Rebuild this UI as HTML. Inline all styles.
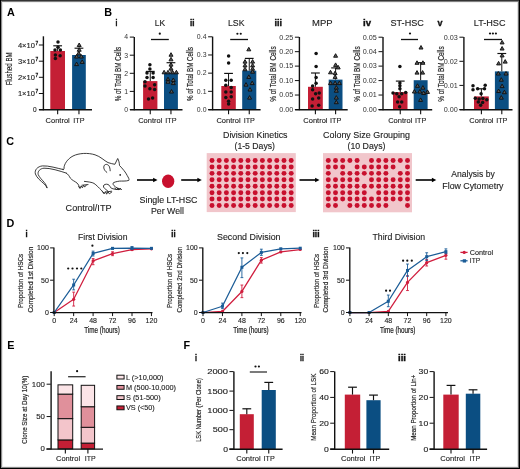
<!DOCTYPE html>
<html><head><meta charset="utf-8"><style>
html,body{margin:0;padding:0;background:#fff;}
svg{display:block;will-change:transform;font-family:"Liberation Sans", sans-serif;}
</style></head><body>
<svg width="520" height="469" viewBox="0 0 520 469">
<rect x="0" y="0" width="520" height="469" fill="#fff"/>
<rect x="0" y="2" width="520" height="1" fill="#efefef"/>
<rect x="0" y="466" width="520" height="1" fill="#eeeeee"/>
<rect x="2" y="0" width="1" height="469" fill="#e8e8e8"/>
<rect x="517" y="0" width="1" height="469" fill="#e0e0e0"/>
<rect x="0" y="1" width="520" height="1" fill="#808080"/>
<rect x="0" y="467" width="520" height="1" fill="#888888"/>
<rect x="1" y="0" width="1" height="469" fill="#8c8c8c"/>
<rect x="518" y="0" width="1" height="469" fill="#6a6a6a"/>
<rect x="0" y="0" width="520" height="1" fill="#333"/>
<rect x="0" y="0" width="1" height="469" fill="#000"/>
<rect x="519" y="0" width="1" height="469" fill="#000"/>
<rect x="0" y="468" width="520" height="1" fill="#000"/>
<text x="7" y="15.6" font-size="10.8" font-weight="bold" fill="#000">A</text>
<text x="104.3" y="15.6" font-size="10.8" font-weight="bold" fill="#000">B</text>
<text x="6.3" y="144.6" font-size="10.8" font-weight="bold" fill="#000">C</text>
<text x="6.5" y="227.2" font-size="10.8" font-weight="bold" fill="#000">D</text>
<text x="7.3" y="349.3" font-size="10.8" font-weight="bold" fill="#000">E</text>
<text x="183.5" y="349.3" font-size="10.8" font-weight="bold" fill="#000">F</text>
<rect x="50.3" y="51" width="14.7" height="58.6" fill="#C41F35"/>
<rect x="72.1" y="55" width="13.7" height="54.6" fill="#0B4E82"/>
<line x1="57.65" y1="45.8" x2="57.65" y2="51" stroke="#111" stroke-width="1"/>
<line x1="53.25" y1="45.8" x2="62.05" y2="45.8" stroke="#111" stroke-width="1.15"/>
<line x1="78.95" y1="48.2" x2="78.95" y2="55" stroke="#111" stroke-width="1"/>
<line x1="74.55" y1="48.2" x2="83.35" y2="48.2" stroke="#111" stroke-width="1.15"/>
<circle cx="58" cy="41.9" r="1.75" fill="#111"/>
<circle cx="55" cy="50.1" r="1.75" fill="#111"/>
<circle cx="60.4" cy="50.1" r="1.75" fill="#111"/>
<circle cx="58" cy="47.3" r="1.75" fill="#111"/>
<circle cx="55.4" cy="54.9" r="1.75" fill="#111"/>
<circle cx="60.1" cy="55.7" r="1.75" fill="#111"/>
<circle cx="55.4" cy="58.6" r="1.75" fill="#111"/>
<polygon points="79.2,43 77.2,46.52 81.2,46.52" fill="#5a5a5a" stroke="#111" stroke-width="0.95" stroke-linejoin="miter"/>
<polygon points="79.2,47.7 77.2,51.22 81.2,51.22" fill="#5a5a5a" stroke="#111" stroke-width="0.95" stroke-linejoin="miter"/>
<polygon points="76.6,54.5 74.6,58.02 78.59,58.02" fill="#5a5a5a" stroke="#111" stroke-width="0.95" stroke-linejoin="miter"/>
<polygon points="81.3,54.5 79.3,58.02 83.3,58.02" fill="#5a5a5a" stroke="#111" stroke-width="0.95" stroke-linejoin="miter"/>
<polygon points="78.7,51.3 76.7,54.82 80.7,54.82" fill="#5a5a5a" stroke="#111" stroke-width="0.95" stroke-linejoin="miter"/>
<polygon points="76.6,62.1 74.6,65.61 78.59,65.61" fill="#5a5a5a" stroke="#111" stroke-width="0.95" stroke-linejoin="miter"/>
<polygon points="82.2,59.9 80.2,63.41 84.2,63.41" fill="#5a5a5a" stroke="#111" stroke-width="0.95" stroke-linejoin="miter"/>
<line x1="43.4" y1="36.3" x2="43.4" y2="110.3" stroke="#111" stroke-width="1.4"/>
<line x1="39.1" y1="109.8" x2="92" y2="109.8" stroke="#111" stroke-width="1.4"/>
<line x1="38.9" y1="45" x2="43.1" y2="45" stroke="#111" stroke-width="1"/>
<line x1="38.9" y1="61.2" x2="43.1" y2="61.2" stroke="#111" stroke-width="1"/>
<line x1="38.9" y1="77.3" x2="43.1" y2="77.3" stroke="#111" stroke-width="1"/>
<line x1="38.9" y1="93.5" x2="43.1" y2="93.5" stroke="#111" stroke-width="1"/>
<line x1="38.9" y1="109.6" x2="43.1" y2="109.6" stroke="#111" stroke-width="1"/>
<line x1="57.65" y1="109.6" x2="57.65" y2="114.3" stroke="#111" stroke-width="1.1"/>
<line x1="78.95" y1="109.6" x2="78.95" y2="114.3" stroke="#111" stroke-width="1.1"/>
<text x="57.65" y="122.6" font-size="7.8" text-anchor="middle" textLength="24.2" lengthAdjust="spacingAndGlyphs" fill="#222" stroke="#222" stroke-width="0.12">Control</text>
<text x="78.95" y="122.6" font-size="7.8" text-anchor="middle" textLength="11.2" lengthAdjust="spacingAndGlyphs" fill="#222" stroke="#222" stroke-width="0.12">ITP</text>
<text x="17.9" y="47.55" font-size="6.5" textLength="17" lengthAdjust="spacingAndGlyphs" fill="#222" stroke="#222" stroke-width="0.12">4×10</text>
<text x="35.6" y="44.9" font-size="4.5" textLength="2.7" lengthAdjust="spacingAndGlyphs" fill="#222" stroke="#222" stroke-width="0.3">7</text>
<text x="17.9" y="63.75" font-size="6.5" textLength="17" lengthAdjust="spacingAndGlyphs" fill="#222" stroke="#222" stroke-width="0.12">3×10</text>
<text x="35.6" y="61.1" font-size="4.5" textLength="2.7" lengthAdjust="spacingAndGlyphs" fill="#222" stroke="#222" stroke-width="0.3">7</text>
<text x="17.9" y="79.85" font-size="6.5" textLength="17" lengthAdjust="spacingAndGlyphs" fill="#222" stroke="#222" stroke-width="0.12">2×10</text>
<text x="35.6" y="77.2" font-size="4.5" textLength="2.7" lengthAdjust="spacingAndGlyphs" fill="#222" stroke="#222" stroke-width="0.3">7</text>
<text x="17.9" y="96.05" font-size="6.5" textLength="17" lengthAdjust="spacingAndGlyphs" fill="#222" stroke="#222" stroke-width="0.12">1×10</text>
<text x="35.6" y="93.4" font-size="4.5" textLength="2.7" lengthAdjust="spacingAndGlyphs" fill="#222" stroke="#222" stroke-width="0.3">7</text>
<text x="36.5" y="111.9" font-size="6.5" text-anchor="end" fill="#222" stroke="#222" stroke-width="0.12">0</text>
<text transform="translate(12 68.8) rotate(-90)" x="0" y="0" font-size="9.43" text-anchor="middle" textLength="32.8" lengthAdjust="spacingAndGlyphs" fill="#222" stroke="#222" stroke-width="0.16">Flushed BM</text>
<rect x="143.1" y="81.1" width="14.3" height="28.4" fill="#C41F35"/>
<rect x="164" y="72.8" width="13.9" height="36.7" fill="#0B4E82"/>
<line x1="150.25" y1="71.4" x2="150.25" y2="81.1" stroke="#111" stroke-width="1"/>
<line x1="145.85" y1="71.4" x2="154.65" y2="71.4" stroke="#111" stroke-width="1.15"/>
<line x1="170.95" y1="62.7" x2="170.95" y2="72.8" stroke="#111" stroke-width="1"/>
<line x1="166.55" y1="62.7" x2="175.35" y2="62.7" stroke="#111" stroke-width="1.15"/>
<circle cx="149.9" cy="64.8" r="1.75" fill="#111"/>
<circle cx="149.9" cy="69.1" r="1.75" fill="#111"/>
<circle cx="147" cy="73" r="1.75" fill="#111"/>
<circle cx="153.1" cy="73" r="1.75" fill="#111"/>
<circle cx="147" cy="77.6" r="1.75" fill="#111"/>
<circle cx="153.1" cy="77.6" r="1.75" fill="#111"/>
<circle cx="145" cy="81.7" r="1.75" fill="#111"/>
<circle cx="145" cy="86" r="1.75" fill="#111"/>
<circle cx="154.6" cy="84.8" r="1.75" fill="#111"/>
<circle cx="149.9" cy="88.8" r="1.75" fill="#111"/>
<circle cx="154.6" cy="89.4" r="1.75" fill="#111"/>
<circle cx="148.5" cy="99" r="1.75" fill="#111"/>
<circle cx="152.6" cy="98" r="1.75" fill="#111"/>
<polygon points="171,52.7 169,56.22 173,56.22" fill="#5a5a5a" stroke="#111" stroke-width="0.95" stroke-linejoin="miter"/>
<polygon points="171,57.3 169,60.82 173,60.82" fill="#5a5a5a" stroke="#111" stroke-width="0.95" stroke-linejoin="miter"/>
<polygon points="171,62.6 169,66.11 173,66.11" fill="#5a5a5a" stroke="#111" stroke-width="0.95" stroke-linejoin="miter"/>
<polygon points="171,66.5 169,70.02 173,70.02" fill="#5a5a5a" stroke="#111" stroke-width="0.95" stroke-linejoin="miter"/>
<polygon points="164.1,70.3 162.1,73.81 166.09,73.81" fill="#5a5a5a" stroke="#111" stroke-width="0.95" stroke-linejoin="miter"/>
<polygon points="168,70.3 166,73.81 170,73.81" fill="#5a5a5a" stroke="#111" stroke-width="0.95" stroke-linejoin="miter"/>
<polygon points="172.6,70.3 170.6,73.81 174.59,73.81" fill="#5a5a5a" stroke="#111" stroke-width="0.95" stroke-linejoin="miter"/>
<polygon points="176.4,70.3 174.41,73.81 178.4,73.81" fill="#5a5a5a" stroke="#111" stroke-width="0.95" stroke-linejoin="miter"/>
<polygon points="168,77.2 166,80.71 170,80.71" fill="#5a5a5a" stroke="#111" stroke-width="0.95" stroke-linejoin="miter"/>
<polygon points="173.3,78 171.31,81.52 175.3,81.52" fill="#5a5a5a" stroke="#111" stroke-width="0.95" stroke-linejoin="miter"/>
<polygon points="168,79.7 166,83.21 170,83.21" fill="#5a5a5a" stroke="#111" stroke-width="0.95" stroke-linejoin="miter"/>
<polygon points="173.3,81.1 171.31,84.61 175.3,84.61" fill="#5a5a5a" stroke="#111" stroke-width="0.95" stroke-linejoin="miter"/>
<polygon points="171.5,89.5 169.5,93.02 173.5,93.02" fill="#5a5a5a" stroke="#111" stroke-width="0.95" stroke-linejoin="miter"/>
<line x1="134.3" y1="36.9" x2="134.3" y2="110.2" stroke="#111" stroke-width="1.4"/>
<line x1="130" y1="109.7" x2="182.5" y2="109.7" stroke="#111" stroke-width="1.4"/>
<line x1="129.8" y1="37.1" x2="134" y2="37.1" stroke="#111" stroke-width="1"/>
<text x="128.2" y="39.4" font-size="6.3" text-anchor="end" textLength="3.85" lengthAdjust="spacingAndGlyphs" fill="#333">4</text>
<line x1="129.8" y1="55.2" x2="134" y2="55.2" stroke="#111" stroke-width="1"/>
<text x="128.2" y="57.5" font-size="6.3" text-anchor="end" textLength="3.85" lengthAdjust="spacingAndGlyphs" fill="#333">3</text>
<line x1="129.8" y1="73.3" x2="134" y2="73.3" stroke="#111" stroke-width="1"/>
<text x="128.2" y="75.6" font-size="6.3" text-anchor="end" textLength="3.85" lengthAdjust="spacingAndGlyphs" fill="#333">2</text>
<line x1="129.8" y1="91.4" x2="134" y2="91.4" stroke="#111" stroke-width="1"/>
<text x="128.2" y="93.7" font-size="6.3" text-anchor="end" textLength="3.85" lengthAdjust="spacingAndGlyphs" fill="#333">1</text>
<line x1="129.8" y1="109.5" x2="134" y2="109.5" stroke="#111" stroke-width="1"/>
<text x="128.2" y="111.8" font-size="6.3" text-anchor="end" textLength="3.85" lengthAdjust="spacingAndGlyphs" fill="#333">0</text>
<line x1="150.25" y1="109.5" x2="150.25" y2="114.2" stroke="#111" stroke-width="1.1"/>
<line x1="170.95" y1="109.5" x2="170.95" y2="114.2" stroke="#111" stroke-width="1.1"/>
<text x="150.25" y="122.6" font-size="7.8" text-anchor="middle" textLength="24.2" lengthAdjust="spacingAndGlyphs" fill="#222" stroke="#222" stroke-width="0.12">Control</text>
<text x="170.95" y="122.6" font-size="7.8" text-anchor="middle" textLength="11.2" lengthAdjust="spacingAndGlyphs" fill="#222" stroke="#222" stroke-width="0.12">ITP</text>
<line x1="151" y1="39.5" x2="168.8" y2="39.5" stroke="#111" stroke-width="1.3"/>
<circle cx="159.8" cy="33.7" r="1.1" fill="#111"/>
<text transform="translate(120.5 74) rotate(-90)" x="0" y="0" font-size="8.39" text-anchor="middle" textLength="54.5" lengthAdjust="spacingAndGlyphs" fill="#222" stroke="#222" stroke-width="0.16">% of Total BM Cells</text>
<rect x="221.3" y="86" width="14.5" height="23.5" fill="#C41F35"/>
<rect x="242.2" y="70.7" width="14.1" height="38.8" fill="#0B4E82"/>
<line x1="228.55" y1="73.4" x2="228.55" y2="86" stroke="#111" stroke-width="1"/>
<line x1="224.15" y1="73.4" x2="232.95" y2="73.4" stroke="#111" stroke-width="1.15"/>
<line x1="249.25" y1="58.4" x2="249.25" y2="70.7" stroke="#111" stroke-width="1"/>
<line x1="244.85" y1="58.4" x2="253.65" y2="58.4" stroke="#111" stroke-width="1.15"/>
<circle cx="228.6" cy="56.1" r="1.75" fill="#111"/>
<circle cx="228.6" cy="63" r="1.75" fill="#111"/>
<circle cx="225.8" cy="80.2" r="1.75" fill="#111"/>
<circle cx="231.2" cy="80.2" r="1.75" fill="#111"/>
<circle cx="225.8" cy="85.2" r="1.75" fill="#111"/>
<circle cx="231.2" cy="87.5" r="1.75" fill="#111"/>
<circle cx="225.8" cy="92.1" r="1.75" fill="#111"/>
<circle cx="231.2" cy="92.1" r="1.75" fill="#111"/>
<circle cx="225.8" cy="97.5" r="1.75" fill="#111"/>
<circle cx="231.2" cy="96.7" r="1.75" fill="#111"/>
<circle cx="228.6" cy="101.3" r="1.75" fill="#111"/>
<circle cx="228.6" cy="104.1" r="1.75" fill="#111"/>
<polygon points="248.8,47.3 246.81,50.82 250.8,50.82" fill="#5a5a5a" stroke="#111" stroke-width="0.95" stroke-linejoin="miter"/>
<polygon points="245,59.6 243,63.12 247,63.12" fill="#5a5a5a" stroke="#111" stroke-width="0.95" stroke-linejoin="miter"/>
<polygon points="252.6,59.6 250.6,63.12 254.59,63.12" fill="#5a5a5a" stroke="#111" stroke-width="0.95" stroke-linejoin="miter"/>
<polygon points="245,63.4 243,66.91 247,66.91" fill="#5a5a5a" stroke="#111" stroke-width="0.95" stroke-linejoin="miter"/>
<polygon points="252.6,63.4 250.6,66.91 254.59,66.91" fill="#5a5a5a" stroke="#111" stroke-width="0.95" stroke-linejoin="miter"/>
<polygon points="245,67.2 243,70.71 247,70.71" fill="#5a5a5a" stroke="#111" stroke-width="0.95" stroke-linejoin="miter"/>
<polygon points="252.6,66.7 250.6,70.21 254.59,70.21" fill="#5a5a5a" stroke="#111" stroke-width="0.95" stroke-linejoin="miter"/>
<polygon points="252.6,69.7 250.6,73.21 254.59,73.21" fill="#5a5a5a" stroke="#111" stroke-width="0.95" stroke-linejoin="miter"/>
<polygon points="248.8,74.9 246.81,78.41 250.8,78.41" fill="#5a5a5a" stroke="#111" stroke-width="0.95" stroke-linejoin="miter"/>
<polygon points="246,82.6 244,86.11 248,86.11" fill="#5a5a5a" stroke="#111" stroke-width="0.95" stroke-linejoin="miter"/>
<polygon points="252.2,81.1 250.2,84.61 254.19,84.61" fill="#5a5a5a" stroke="#111" stroke-width="0.95" stroke-linejoin="miter"/>
<polygon points="250,87.5 248,91.02 252,91.02" fill="#5a5a5a" stroke="#111" stroke-width="0.95" stroke-linejoin="miter"/>
<polygon points="249.6,95.6 247.6,99.11 251.59,99.11" fill="#5a5a5a" stroke="#111" stroke-width="0.95" stroke-linejoin="miter"/>
<line x1="212.6" y1="36.6" x2="212.6" y2="110.2" stroke="#111" stroke-width="1.4"/>
<line x1="208.3" y1="109.7" x2="260.6" y2="109.7" stroke="#111" stroke-width="1.4"/>
<line x1="208.1" y1="36.8" x2="212.3" y2="36.8" stroke="#111" stroke-width="1"/>
<text x="206.5" y="39.1" font-size="6.3" text-anchor="end" textLength="9.63" lengthAdjust="spacingAndGlyphs" fill="#333">0.4</text>
<line x1="208.1" y1="54.97" x2="212.3" y2="54.97" stroke="#111" stroke-width="1"/>
<text x="206.5" y="57.27" font-size="6.3" text-anchor="end" textLength="9.63" lengthAdjust="spacingAndGlyphs" fill="#333">0.3</text>
<line x1="208.1" y1="73.15" x2="212.3" y2="73.15" stroke="#111" stroke-width="1"/>
<text x="206.5" y="75.45" font-size="6.3" text-anchor="end" textLength="9.63" lengthAdjust="spacingAndGlyphs" fill="#333">0.2</text>
<line x1="208.1" y1="91.33" x2="212.3" y2="91.33" stroke="#111" stroke-width="1"/>
<text x="206.5" y="93.62" font-size="6.3" text-anchor="end" textLength="9.63" lengthAdjust="spacingAndGlyphs" fill="#333">0.1</text>
<line x1="208.1" y1="109.5" x2="212.3" y2="109.5" stroke="#111" stroke-width="1"/>
<text x="206.5" y="111.8" font-size="6.3" text-anchor="end" textLength="9.63" lengthAdjust="spacingAndGlyphs" fill="#333">0.0</text>
<line x1="228.55" y1="109.5" x2="228.55" y2="114.2" stroke="#111" stroke-width="1.1"/>
<line x1="249.25" y1="109.5" x2="249.25" y2="114.2" stroke="#111" stroke-width="1.1"/>
<text x="228.55" y="122.6" font-size="7.8" text-anchor="middle" textLength="24.2" lengthAdjust="spacingAndGlyphs" fill="#222" stroke="#222" stroke-width="0.12">Control</text>
<text x="249.25" y="122.6" font-size="7.8" text-anchor="middle" textLength="11.2" lengthAdjust="spacingAndGlyphs" fill="#222" stroke="#222" stroke-width="0.12">ITP</text>
<line x1="230.2" y1="39.5" x2="248" y2="39.5" stroke="#111" stroke-width="1.3"/>
<circle cx="237.4" cy="33.75" r="1.1" fill="#111"/>
<circle cx="240.75" cy="33.75" r="1.1" fill="#111"/>
<text transform="translate(192.6 74) rotate(-90)" x="0" y="0" font-size="8.39" text-anchor="middle" textLength="54" lengthAdjust="spacingAndGlyphs" fill="#222" stroke="#222" stroke-width="0.16">% of Total BM Cells</text>
<rect x="308" y="86.8" width="14.8" height="22.7" fill="#C41F35"/>
<rect x="328.7" y="79.6" width="13.8" height="29.9" fill="#0B4E82"/>
<line x1="315.4" y1="73" x2="315.4" y2="86.8" stroke="#111" stroke-width="1"/>
<line x1="311" y1="73" x2="319.8" y2="73" stroke="#111" stroke-width="1.15"/>
<line x1="335.6" y1="67.9" x2="335.6" y2="79.6" stroke="#111" stroke-width="1"/>
<line x1="331.2" y1="67.9" x2="340" y2="67.9" stroke="#111" stroke-width="1.15"/>
<circle cx="316.1" cy="53.5" r="1.75" fill="#111"/>
<circle cx="316.1" cy="66.4" r="1.75" fill="#111"/>
<circle cx="316.1" cy="77.6" r="1.75" fill="#111"/>
<circle cx="316.1" cy="83.3" r="1.75" fill="#111"/>
<circle cx="312.6" cy="86" r="1.75" fill="#111"/>
<circle cx="312.6" cy="89.8" r="1.75" fill="#111"/>
<circle cx="315.6" cy="93.7" r="1.75" fill="#111"/>
<circle cx="319.2" cy="92.9" r="1.75" fill="#111"/>
<circle cx="312.6" cy="99" r="1.75" fill="#111"/>
<circle cx="318.7" cy="98" r="1.75" fill="#111"/>
<circle cx="312.1" cy="106" r="1.75" fill="#111"/>
<circle cx="318.7" cy="105.2" r="1.75" fill="#111"/>
<polygon points="335.6,53.7 333.61,57.22 337.6,57.22" fill="#5a5a5a" stroke="#111" stroke-width="0.95" stroke-linejoin="miter"/>
<polygon points="335.6,62.9 333.61,66.41 337.6,66.41" fill="#5a5a5a" stroke="#111" stroke-width="0.95" stroke-linejoin="miter"/>
<polygon points="338.2,65.4 336.2,68.91 340.19,68.91" fill="#5a5a5a" stroke="#111" stroke-width="0.95" stroke-linejoin="miter"/>
<polygon points="330.5,70.3 328.5,73.81 332.5,73.81" fill="#5a5a5a" stroke="#111" stroke-width="0.95" stroke-linejoin="miter"/>
<polygon points="335.1,71.1 333.11,74.61 337.1,74.61" fill="#5a5a5a" stroke="#111" stroke-width="0.95" stroke-linejoin="miter"/>
<polygon points="335.1,74.9 333.11,78.41 337.1,78.41" fill="#5a5a5a" stroke="#111" stroke-width="0.95" stroke-linejoin="miter"/>
<polygon points="330.5,81.1 328.5,84.61 332.5,84.61" fill="#5a5a5a" stroke="#111" stroke-width="0.95" stroke-linejoin="miter"/>
<polygon points="335.1,81.1 333.11,84.61 337.1,84.61" fill="#5a5a5a" stroke="#111" stroke-width="0.95" stroke-linejoin="miter"/>
<polygon points="339.4,81.1 337.4,84.61 341.39,84.61" fill="#5a5a5a" stroke="#111" stroke-width="0.95" stroke-linejoin="miter"/>
<polygon points="336.3,85.6 334.31,89.11 338.3,89.11" fill="#5a5a5a" stroke="#111" stroke-width="0.95" stroke-linejoin="miter"/>
<polygon points="336.3,88.7 334.31,92.21 338.3,92.21" fill="#5a5a5a" stroke="#111" stroke-width="0.95" stroke-linejoin="miter"/>
<polygon points="336.3,95.6 334.31,99.11 338.3,99.11" fill="#5a5a5a" stroke="#111" stroke-width="0.95" stroke-linejoin="miter"/>
<polygon points="336.3,100.2 334.31,103.71 338.3,103.71" fill="#5a5a5a" stroke="#111" stroke-width="0.95" stroke-linejoin="miter"/>
<line x1="299.4" y1="37" x2="299.4" y2="110.2" stroke="#111" stroke-width="1.4"/>
<line x1="295.1" y1="109.7" x2="347.7" y2="109.7" stroke="#111" stroke-width="1.4"/>
<line x1="294.9" y1="37.2" x2="299.1" y2="37.2" stroke="#111" stroke-width="1"/>
<text x="293.3" y="39.5" font-size="6.3" text-anchor="end" textLength="14.1" lengthAdjust="spacingAndGlyphs" fill="#333">0.25</text>
<line x1="294.9" y1="51.66" x2="299.1" y2="51.66" stroke="#111" stroke-width="1"/>
<text x="293.3" y="53.96" font-size="6.3" text-anchor="end" textLength="14.1" lengthAdjust="spacingAndGlyphs" fill="#333">0.20</text>
<line x1="294.9" y1="66.12" x2="299.1" y2="66.12" stroke="#111" stroke-width="1"/>
<text x="293.3" y="68.42" font-size="6.3" text-anchor="end" textLength="14.1" lengthAdjust="spacingAndGlyphs" fill="#333">0.15</text>
<line x1="294.9" y1="80.58" x2="299.1" y2="80.58" stroke="#111" stroke-width="1"/>
<text x="293.3" y="82.88" font-size="6.3" text-anchor="end" textLength="14.1" lengthAdjust="spacingAndGlyphs" fill="#333">0.10</text>
<line x1="294.9" y1="95.04" x2="299.1" y2="95.04" stroke="#111" stroke-width="1"/>
<text x="293.3" y="97.34" font-size="6.3" text-anchor="end" textLength="14.1" lengthAdjust="spacingAndGlyphs" fill="#333">0.05</text>
<line x1="294.9" y1="109.5" x2="299.1" y2="109.5" stroke="#111" stroke-width="1"/>
<text x="293.3" y="111.8" font-size="6.3" text-anchor="end" textLength="14.1" lengthAdjust="spacingAndGlyphs" fill="#333">0.00</text>
<line x1="315.4" y1="109.5" x2="315.4" y2="114.2" stroke="#111" stroke-width="1.1"/>
<line x1="335.6" y1="109.5" x2="335.6" y2="114.2" stroke="#111" stroke-width="1.1"/>
<text x="315.4" y="122.6" font-size="7.8" text-anchor="middle" textLength="24.2" lengthAdjust="spacingAndGlyphs" fill="#222" stroke="#222" stroke-width="0.12">Control</text>
<text x="335.6" y="122.6" font-size="7.8" text-anchor="middle" textLength="11.2" lengthAdjust="spacingAndGlyphs" fill="#222" stroke="#222" stroke-width="0.12">ITP</text>
<text transform="translate(275.8 74) rotate(-90)" x="0" y="0" font-size="8.39" text-anchor="middle" textLength="55.3" lengthAdjust="spacingAndGlyphs" fill="#222" stroke="#222" stroke-width="0.16">% of Total BM Cells</text>
<rect x="393" y="92.1" width="14.5" height="17.4" fill="#C41F35"/>
<rect x="413.7" y="80.2" width="13.9" height="29.3" fill="#0B4E82"/>
<line x1="400.25" y1="81.1" x2="400.25" y2="92.1" stroke="#111" stroke-width="1"/>
<line x1="395.85" y1="81.1" x2="404.65" y2="81.1" stroke="#111" stroke-width="1.15"/>
<line x1="420.65" y1="62.7" x2="420.65" y2="80.2" stroke="#111" stroke-width="1"/>
<line x1="416.25" y1="62.7" x2="425.05" y2="62.7" stroke="#111" stroke-width="1.15"/>
<circle cx="399.9" cy="66.4" r="1.75" fill="#111"/>
<circle cx="399.9" cy="83" r="1.75" fill="#111"/>
<circle cx="399.9" cy="85.7" r="1.75" fill="#111"/>
<circle cx="399.9" cy="88.8" r="1.75" fill="#111"/>
<circle cx="393" cy="92.9" r="1.75" fill="#111"/>
<circle cx="396.8" cy="93.7" r="1.75" fill="#111"/>
<circle cx="401.7" cy="93.7" r="1.75" fill="#111"/>
<circle cx="405.7" cy="92.5" r="1.75" fill="#111"/>
<circle cx="399.1" cy="96.7" r="1.75" fill="#111"/>
<circle cx="397.6" cy="102.1" r="1.75" fill="#111"/>
<circle cx="401.7" cy="102.1" r="1.75" fill="#111"/>
<circle cx="399.6" cy="106.7" r="1.75" fill="#111"/>
<polygon points="421,45.5 419,49.02 423,49.02" fill="#5a5a5a" stroke="#111" stroke-width="0.95" stroke-linejoin="miter"/>
<polygon points="417,60.8 415,64.31 419,64.31" fill="#5a5a5a" stroke="#111" stroke-width="0.95" stroke-linejoin="miter"/>
<polygon points="422.9,60.8 420.9,64.31 424.89,64.31" fill="#5a5a5a" stroke="#111" stroke-width="0.95" stroke-linejoin="miter"/>
<polygon points="417,70.6 415,74.11 419,74.11" fill="#5a5a5a" stroke="#111" stroke-width="0.95" stroke-linejoin="miter"/>
<polygon points="422.6,70.6 420.61,74.11 424.6,74.11" fill="#5a5a5a" stroke="#111" stroke-width="0.95" stroke-linejoin="miter"/>
<polygon points="417.5,83.8 415.5,87.31 419.5,87.31" fill="#5a5a5a" stroke="#111" stroke-width="0.95" stroke-linejoin="miter"/>
<polygon points="422.9,85.6 420.9,89.11 424.89,89.11" fill="#5a5a5a" stroke="#111" stroke-width="0.95" stroke-linejoin="miter"/>
<polygon points="414.4,89.5 412.4,93.02 416.39,93.02" fill="#5a5a5a" stroke="#111" stroke-width="0.95" stroke-linejoin="miter"/>
<polygon points="419.8,89.5 417.81,93.02 421.8,93.02" fill="#5a5a5a" stroke="#111" stroke-width="0.95" stroke-linejoin="miter"/>
<polygon points="423.6,91 421.61,94.52 425.6,94.52" fill="#5a5a5a" stroke="#111" stroke-width="0.95" stroke-linejoin="miter"/>
<polygon points="427.5,89.9 425.5,93.41 429.5,93.41" fill="#5a5a5a" stroke="#111" stroke-width="0.95" stroke-linejoin="miter"/>
<polygon points="420.6,97.9 418.61,101.41 422.6,101.41" fill="#5a5a5a" stroke="#111" stroke-width="0.95" stroke-linejoin="miter"/>
<line x1="383" y1="37" x2="383" y2="110.2" stroke="#111" stroke-width="1.4"/>
<line x1="378.7" y1="109.7" x2="432.2" y2="109.7" stroke="#111" stroke-width="1.4"/>
<line x1="378.5" y1="37.2" x2="382.7" y2="37.2" stroke="#111" stroke-width="1"/>
<text x="376.9" y="39.5" font-size="6.3" text-anchor="end" textLength="14.1" lengthAdjust="spacingAndGlyphs" fill="#333">0.05</text>
<line x1="378.5" y1="51.66" x2="382.7" y2="51.66" stroke="#111" stroke-width="1"/>
<text x="376.9" y="53.96" font-size="6.3" text-anchor="end" textLength="14.1" lengthAdjust="spacingAndGlyphs" fill="#333">0.04</text>
<line x1="378.5" y1="66.12" x2="382.7" y2="66.12" stroke="#111" stroke-width="1"/>
<text x="376.9" y="68.42" font-size="6.3" text-anchor="end" textLength="14.1" lengthAdjust="spacingAndGlyphs" fill="#333">0.03</text>
<line x1="378.5" y1="80.58" x2="382.7" y2="80.58" stroke="#111" stroke-width="1"/>
<text x="376.9" y="82.88" font-size="6.3" text-anchor="end" textLength="14.1" lengthAdjust="spacingAndGlyphs" fill="#333">0.02</text>
<line x1="378.5" y1="95.04" x2="382.7" y2="95.04" stroke="#111" stroke-width="1"/>
<text x="376.9" y="97.34" font-size="6.3" text-anchor="end" textLength="14.1" lengthAdjust="spacingAndGlyphs" fill="#333">0.01</text>
<line x1="378.5" y1="109.5" x2="382.7" y2="109.5" stroke="#111" stroke-width="1"/>
<text x="376.9" y="111.8" font-size="6.3" text-anchor="end" textLength="14.1" lengthAdjust="spacingAndGlyphs" fill="#333">0.00</text>
<line x1="400.25" y1="109.5" x2="400.25" y2="114.2" stroke="#111" stroke-width="1.1"/>
<line x1="420.65" y1="109.5" x2="420.65" y2="114.2" stroke="#111" stroke-width="1.1"/>
<text x="400.25" y="122.6" font-size="7.8" text-anchor="middle" textLength="24.2" lengthAdjust="spacingAndGlyphs" fill="#222" stroke="#222" stroke-width="0.12">Control</text>
<text x="420.65" y="122.6" font-size="7.8" text-anchor="middle" textLength="11.2" lengthAdjust="spacingAndGlyphs" fill="#222" stroke="#222" stroke-width="0.12">ITP</text>
<line x1="401" y1="39.5" x2="418" y2="39.5" stroke="#111" stroke-width="1.3"/>
<circle cx="410" cy="33.5" r="1.1" fill="#111"/>
<text transform="translate(359.6 74) rotate(-90)" x="0" y="0" font-size="8.39" text-anchor="middle" textLength="55.3" lengthAdjust="spacingAndGlyphs" fill="#222" stroke="#222" stroke-width="0.16">% of Total BM Cells</text>
<rect x="474" y="96.4" width="14.8" height="13.1" fill="#C41F35"/>
<rect x="494.9" y="71.4" width="13.8" height="38.1" fill="#0B4E82"/>
<line x1="481.4" y1="88.8" x2="481.4" y2="96.4" stroke="#111" stroke-width="1"/>
<line x1="477" y1="88.8" x2="485.8" y2="88.8" stroke="#111" stroke-width="1.15"/>
<line x1="501.8" y1="53.5" x2="501.8" y2="71.4" stroke="#111" stroke-width="1"/>
<line x1="497.4" y1="53.5" x2="506.2" y2="53.5" stroke="#111" stroke-width="1.15"/>
<circle cx="473" cy="85.7" r="1.75" fill="#111"/>
<circle cx="473" cy="89.8" r="1.75" fill="#111"/>
<circle cx="477.6" cy="88.8" r="1.75" fill="#111"/>
<circle cx="485.2" cy="85.2" r="1.75" fill="#111"/>
<circle cx="484.5" cy="88.8" r="1.75" fill="#111"/>
<circle cx="481.1" cy="93.7" r="1.75" fill="#111"/>
<circle cx="475.3" cy="98.3" r="1.75" fill="#111"/>
<circle cx="479.1" cy="99" r="1.75" fill="#111"/>
<circle cx="482.9" cy="98.6" r="1.75" fill="#111"/>
<circle cx="486.8" cy="99.8" r="1.75" fill="#111"/>
<circle cx="478.3" cy="102.1" r="1.75" fill="#111"/>
<circle cx="482.6" cy="102.6" r="1.75" fill="#111"/>
<circle cx="480.6" cy="105.2" r="1.75" fill="#111"/>
<polygon points="502.1,40.4 500.11,43.91 504.1,43.91" fill="#5a5a5a" stroke="#111" stroke-width="0.95" stroke-linejoin="miter"/>
<polygon points="502.1,46.5 500.11,50.02 504.1,50.02" fill="#5a5a5a" stroke="#111" stroke-width="0.95" stroke-linejoin="miter"/>
<polygon points="502.1,53.4 500.11,56.91 504.1,56.91" fill="#5a5a5a" stroke="#111" stroke-width="0.95" stroke-linejoin="miter"/>
<polygon points="498.6,61.4 496.61,64.91 500.6,64.91" fill="#5a5a5a" stroke="#111" stroke-width="0.95" stroke-linejoin="miter"/>
<polygon points="505.2,59.6 503.2,63.12 507.19,63.12" fill="#5a5a5a" stroke="#111" stroke-width="0.95" stroke-linejoin="miter"/>
<polygon points="498.3,71.5 496.31,75.02 500.3,75.02" fill="#5a5a5a" stroke="#111" stroke-width="0.95" stroke-linejoin="miter"/>
<polygon points="506,71.5 504,75.02 508,75.02" fill="#5a5a5a" stroke="#111" stroke-width="0.95" stroke-linejoin="miter"/>
<polygon points="501.3,77.7 499.31,81.21 503.3,81.21" fill="#5a5a5a" stroke="#111" stroke-width="0.95" stroke-linejoin="miter"/>
<polygon points="502.1,84.1 500.11,87.61 504.1,87.61" fill="#5a5a5a" stroke="#111" stroke-width="0.95" stroke-linejoin="miter"/>
<polygon points="498.6,89 496.61,92.52 500.6,92.52" fill="#5a5a5a" stroke="#111" stroke-width="0.95" stroke-linejoin="miter"/>
<polygon points="504.4,90.2 502.4,93.71 506.39,93.71" fill="#5a5a5a" stroke="#111" stroke-width="0.95" stroke-linejoin="miter"/>
<polygon points="501.3,95.6 499.31,99.11 503.3,99.11" fill="#5a5a5a" stroke="#111" stroke-width="0.95" stroke-linejoin="miter"/>
<line x1="463.9" y1="37" x2="463.9" y2="110.2" stroke="#111" stroke-width="1.4"/>
<line x1="459.6" y1="109.7" x2="512.5" y2="109.7" stroke="#111" stroke-width="1.4"/>
<line x1="459.4" y1="37.2" x2="463.6" y2="37.2" stroke="#111" stroke-width="1"/>
<text x="457.8" y="39.5" font-size="6.3" text-anchor="end" textLength="14.1" lengthAdjust="spacingAndGlyphs" fill="#333">0.03</text>
<line x1="459.4" y1="61.3" x2="463.6" y2="61.3" stroke="#111" stroke-width="1"/>
<text x="457.8" y="63.6" font-size="6.3" text-anchor="end" textLength="14.1" lengthAdjust="spacingAndGlyphs" fill="#333">0.02</text>
<line x1="459.4" y1="85.4" x2="463.6" y2="85.4" stroke="#111" stroke-width="1"/>
<text x="457.8" y="87.7" font-size="6.3" text-anchor="end" textLength="14.1" lengthAdjust="spacingAndGlyphs" fill="#333">0.01</text>
<line x1="459.4" y1="109.5" x2="463.6" y2="109.5" stroke="#111" stroke-width="1"/>
<text x="457.8" y="111.8" font-size="6.3" text-anchor="end" textLength="14.1" lengthAdjust="spacingAndGlyphs" fill="#333">0.00</text>
<line x1="481.4" y1="109.5" x2="481.4" y2="114.2" stroke="#111" stroke-width="1.1"/>
<line x1="501.8" y1="109.5" x2="501.8" y2="114.2" stroke="#111" stroke-width="1.1"/>
<text x="481.4" y="122.6" font-size="7.8" text-anchor="middle" textLength="24.2" lengthAdjust="spacingAndGlyphs" fill="#222" stroke="#222" stroke-width="0.12">Control</text>
<text x="501.8" y="122.6" font-size="7.8" text-anchor="middle" textLength="11.2" lengthAdjust="spacingAndGlyphs" fill="#222" stroke="#222" stroke-width="0.12">ITP</text>
<line x1="484" y1="39.5" x2="502" y2="39.5" stroke="#111" stroke-width="1.3"/>
<circle cx="490" cy="33.5" r="1.1" fill="#111"/>
<circle cx="492.9" cy="33.5" r="1.1" fill="#111"/>
<circle cx="495.9" cy="33.5" r="1.1" fill="#111"/>
<text transform="translate(443.8 74) rotate(-90)" x="0" y="0" font-size="8.39" text-anchor="middle" textLength="55.3" lengthAdjust="spacingAndGlyphs" fill="#222" stroke="#222" stroke-width="0.16">% of Total BM Cells</text>
<text x="154.8" y="26.4" font-size="8.6" textLength="10.4" lengthAdjust="spacingAndGlyphs" fill="#222" stroke="#222" stroke-width="0.12">LK</text>
<text x="228" y="26.4" font-size="8.6" textLength="16.5" lengthAdjust="spacingAndGlyphs" fill="#222" stroke="#222" stroke-width="0.12">LSK</text>
<text x="312" y="26.4" font-size="8.6" textLength="20.5" lengthAdjust="spacingAndGlyphs" fill="#222" stroke="#222" stroke-width="0.12">MPP</text>
<text x="390.5" y="26.4" font-size="8.6" textLength="33.3" lengthAdjust="spacingAndGlyphs" fill="#222" stroke="#222" stroke-width="0.12">ST-HSC</text>
<text x="473.8" y="26.4" font-size="8.6" textLength="31.7" lengthAdjust="spacingAndGlyphs" fill="#222" stroke="#222" stroke-width="0.12">LT-HSC</text>
<text x="115.6" y="26.4" font-size="8.6" font-weight="bold" textLength="1.9" lengthAdjust="spacingAndGlyphs" fill="#111" stroke="#111" stroke-width="0.35">i</text>
<text x="190" y="26.4" font-size="8.6" font-weight="bold" textLength="4.5" lengthAdjust="spacingAndGlyphs" fill="#111" stroke="#111" stroke-width="0.35">ii</text>
<text x="274.5" y="26.4" font-size="8.6" font-weight="bold" textLength="7.5" lengthAdjust="spacingAndGlyphs" fill="#111" stroke="#111" stroke-width="0.35">iii</text>
<text x="363" y="26.4" font-size="8.6" font-weight="bold" textLength="8" lengthAdjust="spacingAndGlyphs" fill="#111" stroke="#111" stroke-width="0.35">iv</text>
<text x="437.5" y="26.4" font-size="8.6" font-weight="bold" textLength="5" lengthAdjust="spacingAndGlyphs" fill="#111" stroke="#111" stroke-width="0.35">v</text>
<path d="M62.8,169.4 C63.6,169.8 64.2,169.2 64.0,168.2 C63.9,164.5 67.5,158.8 73,156 C79,153 88,152.6 95,154.8 C100.5,156.5 104,160.5 108,162.6 C110.5,163.6 113,163.8 114.9,164.3 L117.7,158.5 C118.8,160.5 119.4,163 119.5,165.5 C122.5,168.5 125.8,172.5 127.2,175.5 C128.3,177.5 129.6,179.3 128.8,180.4 C126,181.3 122,181 119.6,181.1 C116.5,181.5 113.5,182.3 113,183.2 C112.6,184.5 114.5,186.8 117.5,188 L120.5,189.2" fill="none" stroke="#1a1a1a" stroke-width="0.85" stroke-linecap="round" stroke-linejoin="round"/>
<path d="M118.5,189.6 C115.5,189.4 112,189 110.6,187.6 C109.6,185.6 108.9,184.3 106.6,184.2 C104.4,184.2 102.8,185.4 103.6,187.2 C104.5,188.8 106.8,190 108,191.2" fill="none" stroke="#1a1a1a" stroke-width="0.85" stroke-linecap="round" stroke-linejoin="round"/>
<path d="M84.4,181.4 C88,181.8 92,182.2 94,183.4 C96.5,185 99,188 101.2,190 C102.4,191.4 103.2,192.4 104.2,193.2" fill="none" stroke="#1a1a1a" stroke-width="0.85" stroke-linecap="round" stroke-linejoin="round"/>
<path d="M66.3,173.1 C68,174 69.4,176.4 70.4,178.2 C72,180.2 75,181.4 77,183 C78.2,184.2 79,185.6 79.8,187.9" fill="none" stroke="#1a1a1a" stroke-width="0.85" stroke-linecap="round" stroke-linejoin="round"/>
<path d="M63.4,169.6 C58,168.4 48,165.4 42.5,165.9 C37.5,166.4 34.3,170 35.4,174 C36.8,178 41,181 43.8,183.6 C45.4,185 46.4,186.5 47,187.7" fill="none" stroke="#1a1a1a" stroke-width="0.85" stroke-linecap="round" stroke-linejoin="round"/>
<path d="M66.3,173.1 C60,171 50,167.9 44,168.2 C40,168.5 37.4,171.4 38.2,174.5 C39.4,177.6 42.5,180.2 44.4,182.6 C45.8,184.3 46.6,186 47,187.7" fill="none" stroke="#1a1a1a" stroke-width="0.85" stroke-linecap="round" stroke-linejoin="round"/>
<path d="M106.8,172.4 C104,170.4 103,167.4 104.4,165.2 C105.9,163.7 108.5,164.4 109.5,166.9 C110,168.4 110.2,169.8 110.2,170.8" fill="none" stroke="#1a1a1a" stroke-width="0.85" stroke-linecap="round" stroke-linejoin="round"/>
<path d="M78.6,186.6 L80,188.4 L81.2,185.9 L82.3,187.8 L83.6,185.3 L84.6,187.1 L86.4,185 M82,185.2 L88,184.6" fill="none" stroke="#1a1a1a" stroke-width="0.85" stroke-linecap="round" stroke-linejoin="round"/>
<path d="M102.4,191.6 L104,193.8 L105.4,191.6 L106.6,194.2 L108,191.8 L109.3,193.8 L111.8,192 M106,192 L111.5,191.2" fill="none" stroke="#1a1a1a" stroke-width="0.85" stroke-linecap="round" stroke-linejoin="round"/>
<path d="M114.8,188 L116.4,189.8 L117.8,188 L119,190 L120.2,188.2 L121.6,189.6" fill="none" stroke="#1a1a1a" stroke-width="0.85" stroke-linecap="round" stroke-linejoin="round"/>
<circle cx="120.2" cy="174.9" r="0.85" fill="#1a1a1a"/>
<text x="65.6" y="211.2" font-size="9" textLength="45.9" lengthAdjust="spacingAndGlyphs" fill="#222" stroke="#222" stroke-width="0.12">Control/ITP</text>
<line x1="137" y1="180" x2="154" y2="180" stroke="#000" stroke-width="1.6"/>
<polygon points="157.5,180 153.1,177.85 153.1,182.15" fill="#000"/>
<ellipse cx="168.15" cy="181.3" rx="6.15" ry="6.7" fill="#C8102E"/>
<line x1="181.2" y1="180" x2="198.3" y2="180" stroke="#000" stroke-width="1.6"/>
<polygon points="201.8,180 197.4,177.85 197.4,182.15" fill="#000"/>
<text x="139.5" y="202.6" font-size="8.8" textLength="58" lengthAdjust="spacingAndGlyphs" fill="#222" stroke="#222" stroke-width="0.12">Single LT-HSC</text>
<text x="151" y="213.6" font-size="8.8" textLength="33" lengthAdjust="spacingAndGlyphs" fill="#222" stroke="#222" stroke-width="0.12">Per Well</text>
<rect x="206.7" y="153.1" width="89.1" height="59" fill="#F1C6CB"/>
<circle cx="212" cy="160.5" r="2.48" fill="#C8102E"/>
<circle cx="219.2" cy="160.5" r="2.48" fill="#C8102E"/>
<circle cx="226.4" cy="160.5" r="2.48" fill="#C8102E"/>
<circle cx="233.6" cy="160.5" r="2.48" fill="#C8102E"/>
<circle cx="240.8" cy="160.5" r="2.48" fill="#C8102E"/>
<circle cx="248" cy="160.5" r="2.48" fill="#C8102E"/>
<circle cx="255.2" cy="160.5" r="2.48" fill="#C8102E"/>
<circle cx="262.4" cy="160.5" r="2.48" fill="#C8102E"/>
<circle cx="269.6" cy="160.5" r="2.48" fill="#C8102E"/>
<circle cx="276.8" cy="160.5" r="2.48" fill="#C8102E"/>
<circle cx="284" cy="160.5" r="2.48" fill="#C8102E"/>
<circle cx="291.2" cy="160.5" r="2.48" fill="#C8102E"/>
<circle cx="212" cy="166.93" r="2.48" fill="#C8102E"/>
<circle cx="219.2" cy="166.93" r="2.48" fill="#C8102E"/>
<circle cx="226.4" cy="166.93" r="2.48" fill="#C8102E"/>
<circle cx="233.6" cy="166.93" r="2.48" fill="#C8102E"/>
<circle cx="240.8" cy="166.93" r="2.48" fill="#C8102E"/>
<circle cx="248" cy="166.93" r="2.48" fill="#C8102E"/>
<circle cx="255.2" cy="166.93" r="2.48" fill="#C8102E"/>
<circle cx="262.4" cy="166.93" r="2.48" fill="#C8102E"/>
<circle cx="269.6" cy="166.93" r="2.48" fill="#C8102E"/>
<circle cx="276.8" cy="166.93" r="2.48" fill="#C8102E"/>
<circle cx="284" cy="166.93" r="2.48" fill="#C8102E"/>
<circle cx="291.2" cy="166.93" r="2.48" fill="#C8102E"/>
<circle cx="212" cy="173.36" r="2.48" fill="#C8102E"/>
<circle cx="219.2" cy="173.36" r="2.48" fill="#C8102E"/>
<circle cx="226.4" cy="173.36" r="2.48" fill="#C8102E"/>
<circle cx="233.6" cy="173.36" r="2.48" fill="#C8102E"/>
<circle cx="240.8" cy="173.36" r="2.48" fill="#C8102E"/>
<circle cx="248" cy="173.36" r="2.48" fill="#C8102E"/>
<circle cx="255.2" cy="173.36" r="2.48" fill="#C8102E"/>
<circle cx="262.4" cy="173.36" r="2.48" fill="#C8102E"/>
<circle cx="269.6" cy="173.36" r="2.48" fill="#C8102E"/>
<circle cx="276.8" cy="173.36" r="2.48" fill="#C8102E"/>
<circle cx="284" cy="173.36" r="2.48" fill="#C8102E"/>
<circle cx="291.2" cy="173.36" r="2.48" fill="#C8102E"/>
<circle cx="212" cy="179.79" r="2.48" fill="#C8102E"/>
<circle cx="219.2" cy="179.79" r="2.48" fill="#C8102E"/>
<circle cx="226.4" cy="179.79" r="2.48" fill="#C8102E"/>
<circle cx="233.6" cy="179.79" r="2.48" fill="#C8102E"/>
<circle cx="240.8" cy="179.79" r="2.48" fill="#C8102E"/>
<circle cx="248" cy="179.79" r="2.48" fill="#C8102E"/>
<circle cx="255.2" cy="179.79" r="2.48" fill="#C8102E"/>
<circle cx="262.4" cy="179.79" r="2.48" fill="#C8102E"/>
<circle cx="269.6" cy="179.79" r="2.48" fill="#C8102E"/>
<circle cx="276.8" cy="179.79" r="2.48" fill="#C8102E"/>
<circle cx="284" cy="179.79" r="2.48" fill="#C8102E"/>
<circle cx="291.2" cy="179.79" r="2.48" fill="#C8102E"/>
<circle cx="212" cy="186.22" r="2.48" fill="#C8102E"/>
<circle cx="219.2" cy="186.22" r="2.48" fill="#C8102E"/>
<circle cx="226.4" cy="186.22" r="2.48" fill="#C8102E"/>
<circle cx="233.6" cy="186.22" r="2.48" fill="#C8102E"/>
<circle cx="240.8" cy="186.22" r="2.48" fill="#C8102E"/>
<circle cx="248" cy="186.22" r="2.48" fill="#C8102E"/>
<circle cx="255.2" cy="186.22" r="2.48" fill="#C8102E"/>
<circle cx="262.4" cy="186.22" r="2.48" fill="#C8102E"/>
<circle cx="269.6" cy="186.22" r="2.48" fill="#C8102E"/>
<circle cx="276.8" cy="186.22" r="2.48" fill="#C8102E"/>
<circle cx="284" cy="186.22" r="2.48" fill="#C8102E"/>
<circle cx="291.2" cy="186.22" r="2.48" fill="#C8102E"/>
<circle cx="212" cy="192.65" r="2.48" fill="#C8102E"/>
<circle cx="219.2" cy="192.65" r="2.48" fill="#C8102E"/>
<circle cx="226.4" cy="192.65" r="2.48" fill="#C8102E"/>
<circle cx="233.6" cy="192.65" r="2.48" fill="#C8102E"/>
<circle cx="240.8" cy="192.65" r="2.48" fill="#C8102E"/>
<circle cx="248" cy="192.65" r="2.48" fill="#C8102E"/>
<circle cx="255.2" cy="192.65" r="2.48" fill="#C8102E"/>
<circle cx="262.4" cy="192.65" r="2.48" fill="#C8102E"/>
<circle cx="269.6" cy="192.65" r="2.48" fill="#C8102E"/>
<circle cx="276.8" cy="192.65" r="2.48" fill="#C8102E"/>
<circle cx="284" cy="192.65" r="2.48" fill="#C8102E"/>
<circle cx="291.2" cy="192.65" r="2.48" fill="#C8102E"/>
<circle cx="212" cy="199.08" r="2.48" fill="#C8102E"/>
<circle cx="219.2" cy="199.08" r="2.48" fill="#C8102E"/>
<circle cx="226.4" cy="199.08" r="2.48" fill="#C8102E"/>
<circle cx="233.6" cy="199.08" r="2.48" fill="#C8102E"/>
<circle cx="240.8" cy="199.08" r="2.48" fill="#C8102E"/>
<circle cx="248" cy="199.08" r="2.48" fill="#C8102E"/>
<circle cx="255.2" cy="199.08" r="2.48" fill="#C8102E"/>
<circle cx="262.4" cy="199.08" r="2.48" fill="#C8102E"/>
<circle cx="269.6" cy="199.08" r="2.48" fill="#C8102E"/>
<circle cx="276.8" cy="199.08" r="2.48" fill="#C8102E"/>
<circle cx="284" cy="199.08" r="2.48" fill="#C8102E"/>
<circle cx="291.2" cy="199.08" r="2.48" fill="#C8102E"/>
<circle cx="212" cy="205.51" r="2.48" fill="#C8102E"/>
<circle cx="219.2" cy="205.51" r="2.48" fill="#C8102E"/>
<circle cx="226.4" cy="205.51" r="2.48" fill="#C8102E"/>
<circle cx="233.6" cy="205.51" r="2.48" fill="#C8102E"/>
<circle cx="240.8" cy="205.51" r="2.48" fill="#C8102E"/>
<circle cx="248" cy="205.51" r="2.48" fill="#C8102E"/>
<circle cx="255.2" cy="205.51" r="2.48" fill="#C8102E"/>
<circle cx="262.4" cy="205.51" r="2.48" fill="#C8102E"/>
<circle cx="269.6" cy="205.51" r="2.48" fill="#C8102E"/>
<circle cx="276.8" cy="205.51" r="2.48" fill="#C8102E"/>
<circle cx="284" cy="205.51" r="2.48" fill="#C8102E"/>
<circle cx="291.2" cy="205.51" r="2.48" fill="#C8102E"/>
<text x="223" y="138" font-size="8.8" textLength="64.5" lengthAdjust="spacingAndGlyphs" fill="#222" stroke="#222" stroke-width="0.12">Division Kinetics</text>
<text x="234.5" y="148.6" font-size="8.8" textLength="40.5" lengthAdjust="spacingAndGlyphs" fill="#222" stroke="#222" stroke-width="0.12">(1-5 Days)</text>
<line x1="299.5" y1="180" x2="316" y2="180" stroke="#000" stroke-width="1.6"/>
<polygon points="319.5,180 315.1,177.85 315.1,182.15" fill="#000"/>
<rect x="323" y="153.1" width="89" height="59.2" fill="#F1C6CB"/>
<circle cx="328.3" cy="160.5" r="2.48" fill="#C8102E"/>
<circle cx="335.5" cy="160.5" r="2.48" fill="#C8102E"/>
<circle cx="342.7" cy="160.5" r="2.48" fill="#C8102E"/>
<circle cx="349.9" cy="160.5" r="2.48" fill="#C8102E"/>
<circle cx="357.1" cy="160.5" r="2.48" fill="#C8102E"/>
<circle cx="371.5" cy="160.5" r="2.48" fill="#C8102E"/>
<circle cx="378.7" cy="160.5" r="2.48" fill="#C8102E"/>
<circle cx="385.9" cy="160.5" r="2.48" fill="#C8102E"/>
<circle cx="393.1" cy="160.5" r="2.48" fill="#C8102E"/>
<circle cx="400.3" cy="160.5" r="2.48" fill="#C8102E"/>
<circle cx="407.5" cy="160.5" r="2.48" fill="#C8102E"/>
<circle cx="328.3" cy="166.93" r="2.48" fill="#C8102E"/>
<circle cx="335.5" cy="166.93" r="2.48" fill="#C8102E"/>
<circle cx="342.7" cy="166.93" r="2.48" fill="#C8102E"/>
<circle cx="357.1" cy="166.93" r="2.48" fill="#C8102E"/>
<circle cx="364.3" cy="166.93" r="2.48" fill="#C8102E"/>
<circle cx="371.5" cy="166.93" r="2.48" fill="#C8102E"/>
<circle cx="378.7" cy="166.93" r="2.48" fill="#C8102E"/>
<circle cx="385.9" cy="166.93" r="2.48" fill="#C8102E"/>
<circle cx="393.1" cy="166.93" r="2.48" fill="#C8102E"/>
<circle cx="407.5" cy="166.93" r="2.48" fill="#C8102E"/>
<circle cx="328.3" cy="173.36" r="2.48" fill="#C8102E"/>
<circle cx="342.7" cy="173.36" r="2.48" fill="#C8102E"/>
<circle cx="349.9" cy="173.36" r="2.48" fill="#C8102E"/>
<circle cx="357.1" cy="173.36" r="2.48" fill="#C8102E"/>
<circle cx="364.3" cy="173.36" r="2.48" fill="#C8102E"/>
<circle cx="371.5" cy="173.36" r="2.48" fill="#C8102E"/>
<circle cx="378.7" cy="173.36" r="2.48" fill="#C8102E"/>
<circle cx="385.9" cy="173.36" r="2.48" fill="#C8102E"/>
<circle cx="400.3" cy="173.36" r="2.48" fill="#C8102E"/>
<circle cx="407.5" cy="173.36" r="2.48" fill="#C8102E"/>
<circle cx="328.3" cy="179.79" r="2.48" fill="#C8102E"/>
<circle cx="335.5" cy="179.79" r="2.48" fill="#C8102E"/>
<circle cx="342.7" cy="179.79" r="2.48" fill="#C8102E"/>
<circle cx="349.9" cy="179.79" r="2.48" fill="#C8102E"/>
<circle cx="357.1" cy="179.79" r="2.48" fill="#C8102E"/>
<circle cx="371.5" cy="179.79" r="2.48" fill="#C8102E"/>
<circle cx="378.7" cy="179.79" r="2.48" fill="#C8102E"/>
<circle cx="385.9" cy="179.79" r="2.48" fill="#C8102E"/>
<circle cx="393.1" cy="179.79" r="2.48" fill="#C8102E"/>
<circle cx="400.3" cy="179.79" r="2.48" fill="#C8102E"/>
<circle cx="407.5" cy="179.79" r="2.48" fill="#C8102E"/>
<circle cx="328.3" cy="186.22" r="2.48" fill="#C8102E"/>
<circle cx="335.5" cy="186.22" r="2.48" fill="#C8102E"/>
<circle cx="342.7" cy="186.22" r="2.48" fill="#C8102E"/>
<circle cx="349.9" cy="186.22" r="2.48" fill="#C8102E"/>
<circle cx="357.1" cy="186.22" r="2.48" fill="#C8102E"/>
<circle cx="364.3" cy="186.22" r="2.48" fill="#C8102E"/>
<circle cx="371.5" cy="186.22" r="2.48" fill="#C8102E"/>
<circle cx="378.7" cy="186.22" r="2.48" fill="#C8102E"/>
<circle cx="385.9" cy="186.22" r="2.48" fill="#C8102E"/>
<circle cx="393.1" cy="186.22" r="2.48" fill="#C8102E"/>
<circle cx="400.3" cy="186.22" r="2.48" fill="#C8102E"/>
<circle cx="407.5" cy="186.22" r="2.48" fill="#C8102E"/>
<circle cx="328.3" cy="192.65" r="2.48" fill="#C8102E"/>
<circle cx="335.5" cy="192.65" r="2.48" fill="#C8102E"/>
<circle cx="342.7" cy="192.65" r="2.48" fill="#C8102E"/>
<circle cx="349.9" cy="192.65" r="2.48" fill="#C8102E"/>
<circle cx="357.1" cy="192.65" r="2.48" fill="#C8102E"/>
<circle cx="364.3" cy="192.65" r="2.48" fill="#C8102E"/>
<circle cx="378.7" cy="192.65" r="2.48" fill="#C8102E"/>
<circle cx="385.9" cy="192.65" r="2.48" fill="#C8102E"/>
<circle cx="393.1" cy="192.65" r="2.48" fill="#C8102E"/>
<circle cx="400.3" cy="192.65" r="2.48" fill="#C8102E"/>
<circle cx="407.5" cy="192.65" r="2.48" fill="#C8102E"/>
<circle cx="328.3" cy="199.08" r="2.48" fill="#C8102E"/>
<circle cx="335.5" cy="199.08" r="2.48" fill="#C8102E"/>
<circle cx="342.7" cy="199.08" r="2.48" fill="#C8102E"/>
<circle cx="349.9" cy="199.08" r="2.48" fill="#C8102E"/>
<circle cx="357.1" cy="199.08" r="2.48" fill="#C8102E"/>
<circle cx="364.3" cy="199.08" r="2.48" fill="#C8102E"/>
<circle cx="371.5" cy="199.08" r="2.48" fill="#C8102E"/>
<circle cx="378.7" cy="199.08" r="2.48" fill="#C8102E"/>
<circle cx="385.9" cy="199.08" r="2.48" fill="#C8102E"/>
<circle cx="393.1" cy="199.08" r="2.48" fill="#C8102E"/>
<circle cx="400.3" cy="199.08" r="2.48" fill="#C8102E"/>
<circle cx="407.5" cy="199.08" r="2.48" fill="#C8102E"/>
<circle cx="328.3" cy="205.51" r="2.48" fill="#C8102E"/>
<circle cx="335.5" cy="205.51" r="2.48" fill="#C8102E"/>
<circle cx="349.9" cy="205.51" r="2.48" fill="#C8102E"/>
<circle cx="357.1" cy="205.51" r="2.48" fill="#C8102E"/>
<circle cx="364.3" cy="205.51" r="2.48" fill="#C8102E"/>
<circle cx="371.5" cy="205.51" r="2.48" fill="#C8102E"/>
<circle cx="378.7" cy="205.51" r="2.48" fill="#C8102E"/>
<circle cx="385.9" cy="205.51" r="2.48" fill="#C8102E"/>
<circle cx="407.5" cy="205.51" r="2.48" fill="#C8102E"/>
<text x="323" y="138" font-size="8.8" textLength="87" lengthAdjust="spacingAndGlyphs" fill="#222" stroke="#222" stroke-width="0.12">Colony Size Grouping</text>
<text x="347.5" y="148.6" font-size="8.8" textLength="38" lengthAdjust="spacingAndGlyphs" fill="#222" stroke="#222" stroke-width="0.12">(10 Days)</text>
<line x1="415.7" y1="180" x2="432.8" y2="180" stroke="#000" stroke-width="1.6"/>
<polygon points="436.3,180 431.9,177.85 431.9,182.15" fill="#000"/>
<text x="451.3" y="177.2" font-size="8.8" textLength="43.4" lengthAdjust="spacingAndGlyphs" fill="#222" stroke="#222" stroke-width="0.12">Analysis by</text>
<text x="442.3" y="188.6" font-size="8.8" textLength="61.2" lengthAdjust="spacingAndGlyphs" fill="#222" stroke="#222" stroke-width="0.12">Flow Cytometry</text>
<text x="102" y="332.8" font-size="8.8" text-anchor="middle" textLength="35.5" lengthAdjust="spacingAndGlyphs" fill="#222" stroke="#222" stroke-width="0.22">Time (hours)</text>
<polyline points="54.2,312.5 73.65,299.32 93.1,260.95 112.55,253.58 132,249.58 151.45,248.87" fill="none" stroke="#D01E3E" stroke-width="1.25" stroke-linejoin="round"/>
<circle cx="54.2" cy="312.5" r="1.6" fill="#D01E3E"/>
<line x1="73.65" y1="292.15" x2="73.65" y2="306.04" stroke="#D01E3E" stroke-width="0.9"/>
<line x1="72.25" y1="292.15" x2="75.05" y2="292.15" stroke="#D01E3E" stroke-width="0.9"/>
<line x1="72.25" y1="306.04" x2="75.05" y2="306.04" stroke="#D01E3E" stroke-width="0.9"/>
<circle cx="73.65" cy="299.32" r="1.6" fill="#D01E3E"/>
<line x1="93.1" y1="258.56" x2="93.1" y2="264.7" stroke="#D01E3E" stroke-width="0.9"/>
<line x1="91.7" y1="258.56" x2="94.5" y2="258.56" stroke="#D01E3E" stroke-width="0.9"/>
<line x1="91.7" y1="264.7" x2="94.5" y2="264.7" stroke="#D01E3E" stroke-width="0.9"/>
<circle cx="93.1" cy="260.95" r="1.6" fill="#D01E3E"/>
<line x1="112.55" y1="251.78" x2="112.55" y2="255.65" stroke="#D01E3E" stroke-width="0.9"/>
<line x1="111.15" y1="251.78" x2="113.95" y2="251.78" stroke="#D01E3E" stroke-width="0.9"/>
<line x1="111.15" y1="255.65" x2="113.95" y2="255.65" stroke="#D01E3E" stroke-width="0.9"/>
<circle cx="112.55" cy="253.58" r="1.6" fill="#D01E3E"/>
<line x1="132" y1="248.55" x2="132" y2="250.48" stroke="#D01E3E" stroke-width="0.9"/>
<line x1="130.6" y1="248.55" x2="133.4" y2="248.55" stroke="#D01E3E" stroke-width="0.9"/>
<line x1="130.6" y1="250.48" x2="133.4" y2="250.48" stroke="#D01E3E" stroke-width="0.9"/>
<circle cx="132" cy="249.58" r="1.6" fill="#D01E3E"/>
<circle cx="151.45" cy="248.87" r="1.6" fill="#D01E3E"/>
<polyline points="54.2,312.5 73.65,284.98 93.1,253.46 112.55,248.35 132,248.03 151.45,248.35" fill="none" stroke="#1B5C97" stroke-width="1.25" stroke-linejoin="round"/>
<rect x="52.7" y="311" width="3" height="3" fill="#1B5C97"/>
<line x1="73.65" y1="279.23" x2="73.65" y2="289.89" stroke="#1B5C97" stroke-width="0.9"/>
<line x1="72.25" y1="279.23" x2="75.05" y2="279.23" stroke="#1B5C97" stroke-width="0.9"/>
<line x1="72.25" y1="289.89" x2="75.05" y2="289.89" stroke="#1B5C97" stroke-width="0.9"/>
<rect x="72.15" y="283.48" width="3" height="3" fill="#1B5C97"/>
<line x1="93.1" y1="251.13" x2="93.1" y2="255.97" stroke="#1B5C97" stroke-width="0.9"/>
<line x1="91.7" y1="251.13" x2="94.5" y2="251.13" stroke="#1B5C97" stroke-width="0.9"/>
<line x1="91.7" y1="255.97" x2="94.5" y2="255.97" stroke="#1B5C97" stroke-width="0.9"/>
<rect x="91.6" y="251.96" width="3" height="3" fill="#1B5C97"/>
<line x1="112.55" y1="247.58" x2="112.55" y2="249.19" stroke="#1B5C97" stroke-width="0.9"/>
<line x1="111.15" y1="247.58" x2="113.95" y2="247.58" stroke="#1B5C97" stroke-width="0.9"/>
<line x1="111.15" y1="249.19" x2="113.95" y2="249.19" stroke="#1B5C97" stroke-width="0.9"/>
<rect x="111.05" y="246.85" width="3" height="3" fill="#1B5C97"/>
<line x1="132" y1="246.61" x2="132" y2="249.32" stroke="#1B5C97" stroke-width="0.9"/>
<line x1="130.6" y1="246.61" x2="133.4" y2="246.61" stroke="#1B5C97" stroke-width="0.9"/>
<line x1="130.6" y1="249.32" x2="133.4" y2="249.32" stroke="#1B5C97" stroke-width="0.9"/>
<rect x="130.5" y="246.53" width="3" height="3" fill="#1B5C97"/>
<rect x="149.95" y="246.85" width="3" height="3" fill="#1B5C97"/>
<line x1="53.9" y1="247.4" x2="53.9" y2="313.2" stroke="#111" stroke-width="1.35"/>
<line x1="53.2" y1="312.6" x2="152.5" y2="312.6" stroke="#111" stroke-width="1.35"/>
<line x1="50.1" y1="247.9" x2="53.7" y2="247.9" stroke="#111" stroke-width="1"/>
<text x="48.8" y="250.4" font-size="7" text-anchor="end" fill="#222" stroke="#222" stroke-width="0.12">100</text>
<line x1="50.1" y1="280.2" x2="53.7" y2="280.2" stroke="#111" stroke-width="1"/>
<text x="48.8" y="282.7" font-size="7" text-anchor="end" fill="#222" stroke="#222" stroke-width="0.12">50</text>
<line x1="50.1" y1="312.5" x2="53.7" y2="312.5" stroke="#111" stroke-width="1"/>
<text x="48.8" y="315" font-size="7" text-anchor="end" fill="#222" stroke="#222" stroke-width="0.12">0</text>
<line x1="54.2" y1="312.5" x2="54.2" y2="316.1" stroke="#111" stroke-width="1"/>
<text x="54.2" y="322.9" font-size="7" text-anchor="middle" fill="#222" stroke="#222" stroke-width="0.12">0</text>
<line x1="73.65" y1="312.5" x2="73.65" y2="316.1" stroke="#111" stroke-width="1"/>
<text x="73.65" y="322.9" font-size="7" text-anchor="middle" fill="#222" stroke="#222" stroke-width="0.12">24</text>
<line x1="93.1" y1="312.5" x2="93.1" y2="316.1" stroke="#111" stroke-width="1"/>
<text x="93.1" y="322.9" font-size="7" text-anchor="middle" fill="#222" stroke="#222" stroke-width="0.12">48</text>
<line x1="112.55" y1="312.5" x2="112.55" y2="316.1" stroke="#111" stroke-width="1"/>
<text x="112.55" y="322.9" font-size="7" text-anchor="middle" fill="#222" stroke="#222" stroke-width="0.12">72</text>
<line x1="132" y1="312.5" x2="132" y2="316.1" stroke="#111" stroke-width="1"/>
<text x="132" y="322.9" font-size="7" text-anchor="middle" fill="#222" stroke="#222" stroke-width="0.12">96</text>
<line x1="151.45" y1="312.5" x2="151.45" y2="316.1" stroke="#111" stroke-width="1"/>
<text x="151.45" y="322.9" font-size="7" text-anchor="middle" fill="#222" stroke="#222" stroke-width="0.12">120</text>
<circle cx="68.2" cy="268.5" r="1.1" fill="#111"/>
<circle cx="72.5" cy="268.5" r="1.1" fill="#111"/>
<circle cx="77" cy="268.5" r="1.1" fill="#111"/>
<circle cx="81.3" cy="268.5" r="1.1" fill="#111"/>
<circle cx="92.4" cy="245.7" r="1.1" fill="#111"/>
<text x="78" y="239.7" font-size="8.9" textLength="49.5" lengthAdjust="spacingAndGlyphs" fill="#222" stroke="#222" stroke-width="0.12">First Division</text>
<text x="25.5" y="237.4" font-size="8.6" font-weight="bold" textLength="2.1" lengthAdjust="spacingAndGlyphs" fill="#111" stroke="#111" stroke-width="0.35">i</text>
<text transform="translate(22.9 280.9) rotate(-90)" x="0" y="0" font-size="7.24" text-anchor="middle" textLength="54.3" lengthAdjust="spacingAndGlyphs" fill="#222" stroke="#222" stroke-width="0.16">Proportion of HSCs</text>
<text transform="translate(32.8 279.7) rotate(-90)" x="0" y="0" font-size="7.24" text-anchor="middle" textLength="65.8" lengthAdjust="spacingAndGlyphs" fill="#222" stroke="#222" stroke-width="0.16">Completed 1st Division</text>
<text x="250.95" y="332.8" font-size="8.8" text-anchor="middle" textLength="35.5" lengthAdjust="spacingAndGlyphs" fill="#222" stroke="#222" stroke-width="0.22">Time (hours)</text>
<polyline points="203,312.5 222.45,311.47 241.9,291.44 261.35,260.17 280.8,251.91 300.25,249.51" fill="none" stroke="#D01E3E" stroke-width="1.25" stroke-linejoin="round"/>
<circle cx="203" cy="312.5" r="1.6" fill="#D01E3E"/>
<circle cx="222.45" cy="311.47" r="1.6" fill="#D01E3E"/>
<line x1="241.9" y1="285.05" x2="241.9" y2="297.64" stroke="#D01E3E" stroke-width="0.9"/>
<line x1="240.5" y1="285.05" x2="243.3" y2="285.05" stroke="#D01E3E" stroke-width="0.9"/>
<line x1="240.5" y1="297.64" x2="243.3" y2="297.64" stroke="#D01E3E" stroke-width="0.9"/>
<circle cx="241.9" cy="291.44" r="1.6" fill="#D01E3E"/>
<line x1="261.35" y1="257.59" x2="261.35" y2="263.08" stroke="#D01E3E" stroke-width="0.9"/>
<line x1="259.95" y1="257.59" x2="262.75" y2="257.59" stroke="#D01E3E" stroke-width="0.9"/>
<line x1="259.95" y1="263.08" x2="262.75" y2="263.08" stroke="#D01E3E" stroke-width="0.9"/>
<circle cx="261.35" cy="260.17" r="1.6" fill="#D01E3E"/>
<circle cx="280.8" cy="251.91" r="1.6" fill="#D01E3E"/>
<circle cx="300.25" cy="249.51" r="1.6" fill="#D01E3E"/>
<polyline points="203,312.5 222.45,306.23 241.9,267.28 261.35,252.42 280.8,248.8 300.25,248.22" fill="none" stroke="#1B5C97" stroke-width="1.25" stroke-linejoin="round"/>
<rect x="201.5" y="311" width="3" height="3" fill="#1B5C97"/>
<line x1="222.45" y1="303.13" x2="222.45" y2="308.62" stroke="#1B5C97" stroke-width="0.9"/>
<line x1="221.05" y1="303.13" x2="223.85" y2="303.13" stroke="#1B5C97" stroke-width="0.9"/>
<line x1="221.05" y1="308.62" x2="223.85" y2="308.62" stroke="#1B5C97" stroke-width="0.9"/>
<rect x="220.95" y="304.73" width="3" height="3" fill="#1B5C97"/>
<line x1="241.9" y1="257.91" x2="241.9" y2="277.62" stroke="#1B5C97" stroke-width="0.9"/>
<line x1="240.5" y1="257.91" x2="243.3" y2="257.91" stroke="#1B5C97" stroke-width="0.9"/>
<line x1="240.5" y1="277.62" x2="243.3" y2="277.62" stroke="#1B5C97" stroke-width="0.9"/>
<rect x="240.4" y="265.78" width="3" height="3" fill="#1B5C97"/>
<line x1="261.35" y1="249.19" x2="261.35" y2="255.33" stroke="#1B5C97" stroke-width="0.9"/>
<line x1="259.95" y1="249.19" x2="262.75" y2="249.19" stroke="#1B5C97" stroke-width="0.9"/>
<line x1="259.95" y1="255.33" x2="262.75" y2="255.33" stroke="#1B5C97" stroke-width="0.9"/>
<rect x="259.85" y="250.92" width="3" height="3" fill="#1B5C97"/>
<rect x="279.3" y="247.3" width="3" height="3" fill="#1B5C97"/>
<rect x="298.75" y="246.72" width="3" height="3" fill="#1B5C97"/>
<line x1="202.8" y1="247.4" x2="202.8" y2="313.2" stroke="#111" stroke-width="1.35"/>
<line x1="202.1" y1="312.6" x2="301.5" y2="312.6" stroke="#111" stroke-width="1.35"/>
<line x1="199" y1="247.9" x2="202.6" y2="247.9" stroke="#111" stroke-width="1"/>
<text x="197.7" y="250.4" font-size="7" text-anchor="end" fill="#222" stroke="#222" stroke-width="0.12">100</text>
<line x1="199" y1="280.2" x2="202.6" y2="280.2" stroke="#111" stroke-width="1"/>
<text x="197.7" y="282.7" font-size="7" text-anchor="end" fill="#222" stroke="#222" stroke-width="0.12">50</text>
<line x1="199" y1="312.5" x2="202.6" y2="312.5" stroke="#111" stroke-width="1"/>
<text x="197.7" y="315" font-size="7" text-anchor="end" fill="#222" stroke="#222" stroke-width="0.12">0</text>
<line x1="203" y1="312.5" x2="203" y2="316.1" stroke="#111" stroke-width="1"/>
<text x="203" y="322.9" font-size="7" text-anchor="middle" fill="#222" stroke="#222" stroke-width="0.12">0</text>
<line x1="222.45" y1="312.5" x2="222.45" y2="316.1" stroke="#111" stroke-width="1"/>
<text x="222.45" y="322.9" font-size="7" text-anchor="middle" fill="#222" stroke="#222" stroke-width="0.12">24</text>
<line x1="241.9" y1="312.5" x2="241.9" y2="316.1" stroke="#111" stroke-width="1"/>
<text x="241.9" y="322.9" font-size="7" text-anchor="middle" fill="#222" stroke="#222" stroke-width="0.12">48</text>
<line x1="261.35" y1="312.5" x2="261.35" y2="316.1" stroke="#111" stroke-width="1"/>
<text x="261.35" y="322.9" font-size="7" text-anchor="middle" fill="#222" stroke="#222" stroke-width="0.12">72</text>
<line x1="280.8" y1="312.5" x2="280.8" y2="316.1" stroke="#111" stroke-width="1"/>
<text x="280.8" y="322.9" font-size="7" text-anchor="middle" fill="#222" stroke="#222" stroke-width="0.12">96</text>
<line x1="300.25" y1="312.5" x2="300.25" y2="316.1" stroke="#111" stroke-width="1"/>
<text x="300.25" y="322.9" font-size="7" text-anchor="middle" fill="#222" stroke="#222" stroke-width="0.12">120</text>
<circle cx="238.8" cy="253.1" r="1.1" fill="#111"/>
<circle cx="242.9" cy="253.1" r="1.1" fill="#111"/>
<circle cx="247.3" cy="253.1" r="1.1" fill="#111"/>
<text x="217" y="239.7" font-size="8.9" textLength="63.5" lengthAdjust="spacingAndGlyphs" fill="#222" stroke="#222" stroke-width="0.12">Second Division</text>
<text x="171.3" y="237.4" font-size="8.6" font-weight="bold" textLength="4.3" lengthAdjust="spacingAndGlyphs" fill="#111" stroke="#111" stroke-width="0.35">ii</text>
<text transform="translate(172.2 280.9) rotate(-90)" x="0" y="0" font-size="7.24" text-anchor="middle" textLength="54.3" lengthAdjust="spacingAndGlyphs" fill="#222" stroke="#222" stroke-width="0.16">Proportion of HSCs</text>
<text transform="translate(182.1 279.7) rotate(-90)" x="0" y="0" font-size="7.24" text-anchor="middle" textLength="65.8" lengthAdjust="spacingAndGlyphs" fill="#222" stroke="#222" stroke-width="0.16">Completed 2nd Division</text>
<text x="397.7" y="332.8" font-size="8.8" text-anchor="middle" textLength="35.5" lengthAdjust="spacingAndGlyphs" fill="#222" stroke="#222" stroke-width="0.22">Time (hours)</text>
<polyline points="349.9,312.5 369.1,312.5 388.3,311.34 407.5,282.4 426.7,262.69 445.9,255.33" fill="none" stroke="#D01E3E" stroke-width="1.25" stroke-linejoin="round"/>
<circle cx="349.9" cy="312.5" r="1.6" fill="#D01E3E"/>
<circle cx="369.1" cy="312.5" r="1.6" fill="#D01E3E"/>
<circle cx="388.3" cy="311.34" r="1.6" fill="#D01E3E"/>
<line x1="407.5" y1="275.68" x2="407.5" y2="290.54" stroke="#D01E3E" stroke-width="0.9"/>
<line x1="406.1" y1="275.68" x2="408.9" y2="275.68" stroke="#D01E3E" stroke-width="0.9"/>
<line x1="406.1" y1="290.54" x2="408.9" y2="290.54" stroke="#D01E3E" stroke-width="0.9"/>
<circle cx="407.5" cy="282.4" r="1.6" fill="#D01E3E"/>
<line x1="426.7" y1="259.53" x2="426.7" y2="265.99" stroke="#D01E3E" stroke-width="0.9"/>
<line x1="425.3" y1="259.53" x2="428.1" y2="259.53" stroke="#D01E3E" stroke-width="0.9"/>
<line x1="425.3" y1="265.99" x2="428.1" y2="265.99" stroke="#D01E3E" stroke-width="0.9"/>
<circle cx="426.7" cy="262.69" r="1.6" fill="#D01E3E"/>
<line x1="445.9" y1="253.39" x2="445.9" y2="259.2" stroke="#D01E3E" stroke-width="0.9"/>
<line x1="444.5" y1="253.39" x2="447.3" y2="253.39" stroke="#D01E3E" stroke-width="0.9"/>
<line x1="444.5" y1="259.2" x2="447.3" y2="259.2" stroke="#D01E3E" stroke-width="0.9"/>
<circle cx="445.9" cy="255.33" r="1.6" fill="#D01E3E"/>
<polyline points="349.9,312.5 369.1,312.5 388.3,301.26 407.5,270.45 426.7,256.69 445.9,251.65" fill="none" stroke="#1B5C97" stroke-width="1.25" stroke-linejoin="round"/>
<rect x="348.4" y="311" width="3" height="3" fill="#1B5C97"/>
<rect x="367.6" y="311" width="3" height="3" fill="#1B5C97"/>
<line x1="388.3" y1="295.06" x2="388.3" y2="306.69" stroke="#1B5C97" stroke-width="0.9"/>
<line x1="386.9" y1="295.06" x2="389.7" y2="295.06" stroke="#1B5C97" stroke-width="0.9"/>
<line x1="386.9" y1="306.69" x2="389.7" y2="306.69" stroke="#1B5C97" stroke-width="0.9"/>
<rect x="386.8" y="299.76" width="3" height="3" fill="#1B5C97"/>
<line x1="407.5" y1="264.05" x2="407.5" y2="276.32" stroke="#1B5C97" stroke-width="0.9"/>
<line x1="406.1" y1="264.05" x2="408.9" y2="264.05" stroke="#1B5C97" stroke-width="0.9"/>
<line x1="406.1" y1="276.32" x2="408.9" y2="276.32" stroke="#1B5C97" stroke-width="0.9"/>
<rect x="406" y="268.95" width="3" height="3" fill="#1B5C97"/>
<line x1="426.7" y1="252.75" x2="426.7" y2="260.5" stroke="#1B5C97" stroke-width="0.9"/>
<line x1="425.3" y1="252.75" x2="428.1" y2="252.75" stroke="#1B5C97" stroke-width="0.9"/>
<line x1="425.3" y1="260.5" x2="428.1" y2="260.5" stroke="#1B5C97" stroke-width="0.9"/>
<rect x="425.2" y="255.19" width="3" height="3" fill="#1B5C97"/>
<line x1="445.9" y1="248.87" x2="445.9" y2="253.71" stroke="#1B5C97" stroke-width="0.9"/>
<line x1="444.5" y1="248.87" x2="447.3" y2="248.87" stroke="#1B5C97" stroke-width="0.9"/>
<line x1="444.5" y1="253.71" x2="447.3" y2="253.71" stroke="#1B5C97" stroke-width="0.9"/>
<rect x="444.4" y="250.15" width="3" height="3" fill="#1B5C97"/>
<line x1="349.8" y1="247.4" x2="349.8" y2="313.2" stroke="#111" stroke-width="1.35"/>
<line x1="349.1" y1="312.6" x2="448" y2="312.6" stroke="#111" stroke-width="1.35"/>
<line x1="346" y1="247.9" x2="349.6" y2="247.9" stroke="#111" stroke-width="1"/>
<text x="344.7" y="250.4" font-size="7" text-anchor="end" fill="#222" stroke="#222" stroke-width="0.12">100</text>
<line x1="346" y1="280.2" x2="349.6" y2="280.2" stroke="#111" stroke-width="1"/>
<text x="344.7" y="282.7" font-size="7" text-anchor="end" fill="#222" stroke="#222" stroke-width="0.12">50</text>
<line x1="346" y1="312.5" x2="349.6" y2="312.5" stroke="#111" stroke-width="1"/>
<text x="344.7" y="315" font-size="7" text-anchor="end" fill="#222" stroke="#222" stroke-width="0.12">0</text>
<line x1="349.9" y1="312.5" x2="349.9" y2="316.1" stroke="#111" stroke-width="1"/>
<text x="349.9" y="322.9" font-size="7" text-anchor="middle" fill="#222" stroke="#222" stroke-width="0.12">0</text>
<line x1="369.1" y1="312.5" x2="369.1" y2="316.1" stroke="#111" stroke-width="1"/>
<text x="369.1" y="322.9" font-size="7" text-anchor="middle" fill="#222" stroke="#222" stroke-width="0.12">24</text>
<line x1="388.3" y1="312.5" x2="388.3" y2="316.1" stroke="#111" stroke-width="1"/>
<text x="388.3" y="322.9" font-size="7" text-anchor="middle" fill="#222" stroke="#222" stroke-width="0.12">48</text>
<line x1="407.5" y1="312.5" x2="407.5" y2="316.1" stroke="#111" stroke-width="1"/>
<text x="407.5" y="322.9" font-size="7" text-anchor="middle" fill="#222" stroke="#222" stroke-width="0.12">72</text>
<line x1="426.7" y1="312.5" x2="426.7" y2="316.1" stroke="#111" stroke-width="1"/>
<text x="426.7" y="322.9" font-size="7" text-anchor="middle" fill="#222" stroke="#222" stroke-width="0.12">96</text>
<line x1="445.9" y1="312.5" x2="445.9" y2="316.1" stroke="#111" stroke-width="1"/>
<text x="445.9" y="322.9" font-size="7" text-anchor="middle" fill="#222" stroke="#222" stroke-width="0.12">120</text>
<circle cx="386.1" cy="290.7" r="1.1" fill="#111"/>
<circle cx="390" cy="290.7" r="1.1" fill="#111"/>
<circle cx="403.1" cy="260.7" r="1.1" fill="#111"/>
<circle cx="407.3" cy="260.7" r="1.1" fill="#111"/>
<circle cx="411.8" cy="260.7" r="1.1" fill="#111"/>
<text x="372.5" y="239.7" font-size="8.9" textLength="52.7" lengthAdjust="spacingAndGlyphs" fill="#222" stroke="#222" stroke-width="0.12">Third Division</text>
<text x="312.5" y="237.4" font-size="8.6" font-weight="bold" textLength="7.1" lengthAdjust="spacingAndGlyphs" fill="#111" stroke="#111" stroke-width="0.35">iii</text>
<text transform="translate(318.5 280.9) rotate(-90)" x="0" y="0" font-size="7.24" text-anchor="middle" textLength="54.3" lengthAdjust="spacingAndGlyphs" fill="#222" stroke="#222" stroke-width="0.16">Proportion of HSCs</text>
<text transform="translate(328.4 279.7) rotate(-90)" x="0" y="0" font-size="7.24" text-anchor="middle" textLength="65.8" lengthAdjust="spacingAndGlyphs" fill="#222" stroke="#222" stroke-width="0.16">Completed 3rd Division</text>
<line x1="460.4" y1="252.4" x2="467.6" y2="252.4" stroke="#D01E3E" stroke-width="1.3"/>
<circle cx="464.2" cy="252.4" r="1.6" fill="#D01E3E"/>
<line x1="460.4" y1="260.8" x2="467.6" y2="260.8" stroke="#1B5C97" stroke-width="1.3"/>
<rect x="462.75" y="259.25" width="3.3" height="3.3" fill="#1B5C97"/>
<text x="469.8" y="255" font-size="7.6" textLength="23.3" lengthAdjust="spacingAndGlyphs" fill="#222" stroke="#222" stroke-width="0.12">Control</text>
<text x="469.8" y="263.3" font-size="7.6" textLength="10.3" lengthAdjust="spacingAndGlyphs" fill="#222" stroke="#222" stroke-width="0.12">ITP</text>
<rect x="58" y="439.91" width="14.7" height="8.99" fill="#C41F35" stroke="#111" stroke-width="1"/>
<rect x="58" y="418.62" width="14.7" height="21.29" fill="#F3C5CB" stroke="#111" stroke-width="1"/>
<rect x="58" y="394.1" width="14.7" height="24.52" fill="#E0909B" stroke="#111" stroke-width="1"/>
<rect x="58" y="384.85" width="14.7" height="9.25" fill="#FBE4E7" stroke="#111" stroke-width="1"/>
<line x1="65.35" y1="448.9" x2="65.35" y2="453.5" stroke="#111" stroke-width="1.1"/>
<rect x="81.2" y="443.08" width="13.4" height="5.82" fill="#C41F35" stroke="#111" stroke-width="1"/>
<rect x="81.2" y="427.29" width="13.4" height="15.79" fill="#F3C5CB" stroke="#111" stroke-width="1"/>
<rect x="81.2" y="406.72" width="13.4" height="20.57" fill="#E0909B" stroke="#111" stroke-width="1"/>
<rect x="81.2" y="385.3" width="13.4" height="21.42" fill="#FBE4E7" stroke="#111" stroke-width="1"/>
<line x1="87.9" y1="448.9" x2="87.9" y2="453.5" stroke="#111" stroke-width="1.1"/>
<line x1="51.1" y1="371.3" x2="51.1" y2="449.6" stroke="#111" stroke-width="1.4"/>
<line x1="46.4" y1="449.1" x2="103" y2="449.1" stroke="#111" stroke-width="1.4"/>
<line x1="46.6" y1="384.2" x2="50.8" y2="384.2" stroke="#111" stroke-width="1"/>
<text x="44.9" y="386.7" font-size="7" text-anchor="end" textLength="13.08" lengthAdjust="spacingAndGlyphs" fill="#222" stroke="#222" stroke-width="0.12">100</text>
<line x1="46.6" y1="416.55" x2="50.8" y2="416.55" stroke="#111" stroke-width="1"/>
<text x="44.9" y="419.05" font-size="7" text-anchor="end" textLength="8.72" lengthAdjust="spacingAndGlyphs" fill="#222" stroke="#222" stroke-width="0.12">50</text>
<line x1="46.6" y1="448.9" x2="50.8" y2="448.9" stroke="#111" stroke-width="1"/>
<text x="44.9" y="451.4" font-size="7" text-anchor="end" textLength="4.36" lengthAdjust="spacingAndGlyphs" fill="#222" stroke="#222" stroke-width="0.12">0</text>
<text x="68.1" y="461.2" font-size="7.8" text-anchor="middle" textLength="24.2" lengthAdjust="spacingAndGlyphs" fill="#222" stroke="#222" stroke-width="0.12">Control</text>
<text x="90.25" y="461.2" font-size="7.8" text-anchor="middle" textLength="10.9" lengthAdjust="spacingAndGlyphs" fill="#222" stroke="#222" stroke-width="0.12">ITP</text>
<line x1="68.1" y1="376.7" x2="85.6" y2="376.7" stroke="#333" stroke-width="1.3"/>
<circle cx="77.1" cy="371.2" r="1.1" fill="#111"/>
<text transform="translate(27.4 409.6) rotate(-90)" x="0" y="0" font-size="7.59" text-anchor="middle" textLength="68.1" lengthAdjust="spacingAndGlyphs" fill="#222" stroke="#222" stroke-width="0.16">Clone Size at Day 10(%)</text>
<rect x="116.9" y="375.2" width="7.2" height="3.8" fill="#FBE4E7" stroke="#111" stroke-width="1"/>
<text x="126" y="379.6" font-size="7.2" textLength="37.5" lengthAdjust="spacingAndGlyphs" fill="#222" stroke="#222" stroke-width="0.12">L (&gt;10,000)</text>
<rect x="116.9" y="385.45" width="7.2" height="3.8" fill="#E0909B" stroke="#111" stroke-width="1"/>
<text x="126" y="389.85" font-size="7.2" textLength="50" lengthAdjust="spacingAndGlyphs" fill="#222" stroke="#222" stroke-width="0.12">M (500-10,000)</text>
<rect x="116.9" y="395.7" width="7.2" height="3.8" fill="#F3C5CB" stroke="#111" stroke-width="1"/>
<text x="126" y="400.1" font-size="7.2" textLength="34.6" lengthAdjust="spacingAndGlyphs" fill="#222" stroke="#222" stroke-width="0.12">S (51-500)</text>
<rect x="116.9" y="405.95" width="7.2" height="3.8" fill="#C41F35" stroke="#111" stroke-width="1"/>
<text x="126" y="410.35" font-size="7.2" textLength="28.8" lengthAdjust="spacingAndGlyphs" fill="#222" stroke="#222" stroke-width="0.12">VS (&lt;50)</text>
<rect x="239.8" y="414.2" width="14" height="34.8" fill="#C41F35"/>
<rect x="261.7" y="390" width="14.1" height="59" fill="#0B4E82"/>
<line x1="246.8" y1="414.2" x2="246.8" y2="408.8" stroke="#111" stroke-width="1.15"/>
<line x1="242.4" y1="408.8" x2="251.2" y2="408.8" stroke="#111" stroke-width="1.2"/>
<line x1="268.75" y1="390" x2="268.75" y2="382.4" stroke="#111" stroke-width="1.15"/>
<line x1="264.35" y1="382.4" x2="273.15" y2="382.4" stroke="#111" stroke-width="1.2"/>
<line x1="233.9" y1="371.4" x2="233.9" y2="449.7" stroke="#111" stroke-width="1.4"/>
<line x1="229.4" y1="449.2" x2="282.6" y2="449.2" stroke="#111" stroke-width="1.4"/>
<line x1="229.4" y1="371.6" x2="233.6" y2="371.6" stroke="#111" stroke-width="1"/>
<text x="228" y="374.1" font-size="7" text-anchor="end" textLength="20.8" lengthAdjust="spacingAndGlyphs" fill="#222" stroke="#222" stroke-width="0.12">2000</text>
<line x1="229.4" y1="391.1" x2="233.6" y2="391.1" stroke="#111" stroke-width="1"/>
<text x="228" y="393.6" font-size="7" text-anchor="end" textLength="20.8" lengthAdjust="spacingAndGlyphs" fill="#222" stroke="#222" stroke-width="0.12">1500</text>
<line x1="229.4" y1="410.4" x2="233.6" y2="410.4" stroke="#111" stroke-width="1"/>
<text x="228" y="412.9" font-size="7" text-anchor="end" textLength="20.8" lengthAdjust="spacingAndGlyphs" fill="#222" stroke="#222" stroke-width="0.12">1000</text>
<line x1="229.4" y1="429.7" x2="233.6" y2="429.7" stroke="#111" stroke-width="1"/>
<text x="228" y="432.2" font-size="7" text-anchor="end" textLength="15.2" lengthAdjust="spacingAndGlyphs" fill="#222" stroke="#222" stroke-width="0.12">500</text>
<line x1="229.4" y1="449" x2="233.6" y2="449" stroke="#111" stroke-width="1"/>
<text x="228" y="451.5" font-size="7" text-anchor="end" textLength="4.8" lengthAdjust="spacingAndGlyphs" fill="#222" stroke="#222" stroke-width="0.12">0</text>
<line x1="246.8" y1="449" x2="246.8" y2="453.6" stroke="#111" stroke-width="1.1"/>
<line x1="268.75" y1="449" x2="268.75" y2="453.6" stroke="#111" stroke-width="1.1"/>
<text x="236.2" y="461.4" font-size="7.8" textLength="24.4" lengthAdjust="spacingAndGlyphs" fill="#222" stroke="#222" stroke-width="0.12">Control</text>
<text x="263.5" y="461.4" font-size="7.8" textLength="11.2" lengthAdjust="spacingAndGlyphs" fill="#222" stroke="#222" stroke-width="0.12">ITP</text>
<text transform="translate(201.4 410) rotate(-90)" x="0" y="0" font-size="7.59" text-anchor="middle" textLength="63.7" lengthAdjust="spacingAndGlyphs" fill="#222" stroke="#222" stroke-width="0.16">LSK Number (Per Clone)</text>
<line x1="249.8" y1="372" x2="267" y2="372" stroke="#333" stroke-width="1.3"/>
<circle cx="255.5" cy="366.5" r="1.1" fill="#111"/>
<circle cx="258.9" cy="366.5" r="1.1" fill="#111"/>
<rect x="344.8" y="394.6" width="15.4" height="54.4" fill="#C41F35"/>
<rect x="366.4" y="400.2" width="14.2" height="48.8" fill="#0B4E82"/>
<line x1="352.5" y1="394.6" x2="352.5" y2="387.2" stroke="#111" stroke-width="1.15"/>
<line x1="348.1" y1="387.2" x2="356.9" y2="387.2" stroke="#111" stroke-width="1.2"/>
<line x1="373.5" y1="400.2" x2="373.5" y2="395.1" stroke="#111" stroke-width="1.15"/>
<line x1="369.1" y1="395.1" x2="377.9" y2="395.1" stroke="#111" stroke-width="1.2"/>
<line x1="334.7" y1="371.4" x2="334.7" y2="449.7" stroke="#111" stroke-width="1.4"/>
<line x1="330.2" y1="449.2" x2="389.2" y2="449.2" stroke="#111" stroke-width="1.4"/>
<line x1="330.2" y1="371.6" x2="334.4" y2="371.6" stroke="#111" stroke-width="1"/>
<text x="328.8" y="374.1" font-size="7" text-anchor="end" textLength="9.6" lengthAdjust="spacingAndGlyphs" fill="#222" stroke="#222" stroke-width="0.12">60</text>
<line x1="330.2" y1="397.4" x2="334.4" y2="397.4" stroke="#111" stroke-width="1"/>
<text x="328.8" y="399.9" font-size="7" text-anchor="end" textLength="9.6" lengthAdjust="spacingAndGlyphs" fill="#222" stroke="#222" stroke-width="0.12">40</text>
<line x1="330.2" y1="423.2" x2="334.4" y2="423.2" stroke="#111" stroke-width="1"/>
<text x="328.8" y="425.7" font-size="7" text-anchor="end" textLength="9.6" lengthAdjust="spacingAndGlyphs" fill="#222" stroke="#222" stroke-width="0.12">20</text>
<line x1="330.2" y1="449" x2="334.4" y2="449" stroke="#111" stroke-width="1"/>
<text x="328.8" y="451.5" font-size="7" text-anchor="end" textLength="4.8" lengthAdjust="spacingAndGlyphs" fill="#222" stroke="#222" stroke-width="0.12">0</text>
<line x1="352.5" y1="449" x2="352.5" y2="453.6" stroke="#111" stroke-width="1.1"/>
<line x1="373.5" y1="449" x2="373.5" y2="453.6" stroke="#111" stroke-width="1.1"/>
<text x="340.9" y="461.4" font-size="7.8" textLength="24.5" lengthAdjust="spacingAndGlyphs" fill="#222" stroke="#222" stroke-width="0.12">Control</text>
<text x="369.4" y="461.4" font-size="7.8" textLength="10.9" lengthAdjust="spacingAndGlyphs" fill="#222" stroke="#222" stroke-width="0.12">ITP</text>
<text transform="translate(316.4 407.2) rotate(-90)" x="0" y="0" font-size="7.59" text-anchor="middle" textLength="67.2" lengthAdjust="spacingAndGlyphs" fill="#222" stroke="#222" stroke-width="0.16">Mean Proportion of LSK</text>
<rect x="443.3" y="394.6" width="15.4" height="54.4" fill="#C41F35"/>
<rect x="465.8" y="393.7" width="14.5" height="55.3" fill="#0B4E82"/>
<line x1="451" y1="394.6" x2="451" y2="385.4" stroke="#111" stroke-width="1.15"/>
<line x1="446.6" y1="385.4" x2="455.4" y2="385.4" stroke="#111" stroke-width="1.2"/>
<line x1="473.05" y1="393.7" x2="473.05" y2="389.8" stroke="#111" stroke-width="1.15"/>
<line x1="468.65" y1="389.8" x2="477.45" y2="389.8" stroke="#111" stroke-width="1.2"/>
<line x1="434.1" y1="371.4" x2="434.1" y2="449.7" stroke="#111" stroke-width="1.4"/>
<line x1="429.6" y1="449.2" x2="487.1" y2="449.2" stroke="#111" stroke-width="1.4"/>
<line x1="429.6" y1="371.6" x2="433.8" y2="371.6" stroke="#111" stroke-width="1"/>
<text x="428.2" y="374.1" font-size="7" text-anchor="end" textLength="9.6" lengthAdjust="spacingAndGlyphs" fill="#222" stroke="#222" stroke-width="0.12">30</text>
<line x1="429.6" y1="397.4" x2="433.8" y2="397.4" stroke="#111" stroke-width="1"/>
<text x="428.2" y="399.9" font-size="7" text-anchor="end" textLength="9.6" lengthAdjust="spacingAndGlyphs" fill="#222" stroke="#222" stroke-width="0.12">20</text>
<line x1="429.6" y1="423.2" x2="433.8" y2="423.2" stroke="#111" stroke-width="1"/>
<text x="428.2" y="425.7" font-size="7" text-anchor="end" textLength="9.6" lengthAdjust="spacingAndGlyphs" fill="#222" stroke="#222" stroke-width="0.12">10</text>
<line x1="429.6" y1="449" x2="433.8" y2="449" stroke="#111" stroke-width="1"/>
<text x="428.2" y="451.5" font-size="7" text-anchor="end" textLength="4.8" lengthAdjust="spacingAndGlyphs" fill="#222" stroke="#222" stroke-width="0.12">0</text>
<line x1="451" y1="449" x2="451" y2="453.6" stroke="#111" stroke-width="1.1"/>
<line x1="473.05" y1="449" x2="473.05" y2="453.6" stroke="#111" stroke-width="1.1"/>
<text x="440.3" y="461.4" font-size="7.8" textLength="24.6" lengthAdjust="spacingAndGlyphs" fill="#222" stroke="#222" stroke-width="0.12">Control</text>
<text x="469.4" y="461.4" font-size="7.8" textLength="10.9" lengthAdjust="spacingAndGlyphs" fill="#222" stroke="#222" stroke-width="0.12">ITP</text>
<text transform="translate(415.6 407.7) rotate(-90)" x="0" y="0" font-size="7.59" text-anchor="middle" textLength="66.2" lengthAdjust="spacingAndGlyphs" fill="#222" stroke="#222" stroke-width="0.16">Mean Proportion of Lin+</text>
<text x="194.9" y="361" font-size="8.6" font-weight="bold" textLength="2" lengthAdjust="spacingAndGlyphs" fill="#111" stroke="#111" stroke-width="0.35">i</text>
<text x="300" y="361" font-size="8.6" font-weight="bold" textLength="3.9" lengthAdjust="spacingAndGlyphs" fill="#111" stroke="#111" stroke-width="0.35">ii</text>
<text x="398" y="361" font-size="8.6" font-weight="bold" textLength="8" lengthAdjust="spacingAndGlyphs" fill="#111" stroke="#111" stroke-width="0.35">iii</text>
</svg>
</body></html>
